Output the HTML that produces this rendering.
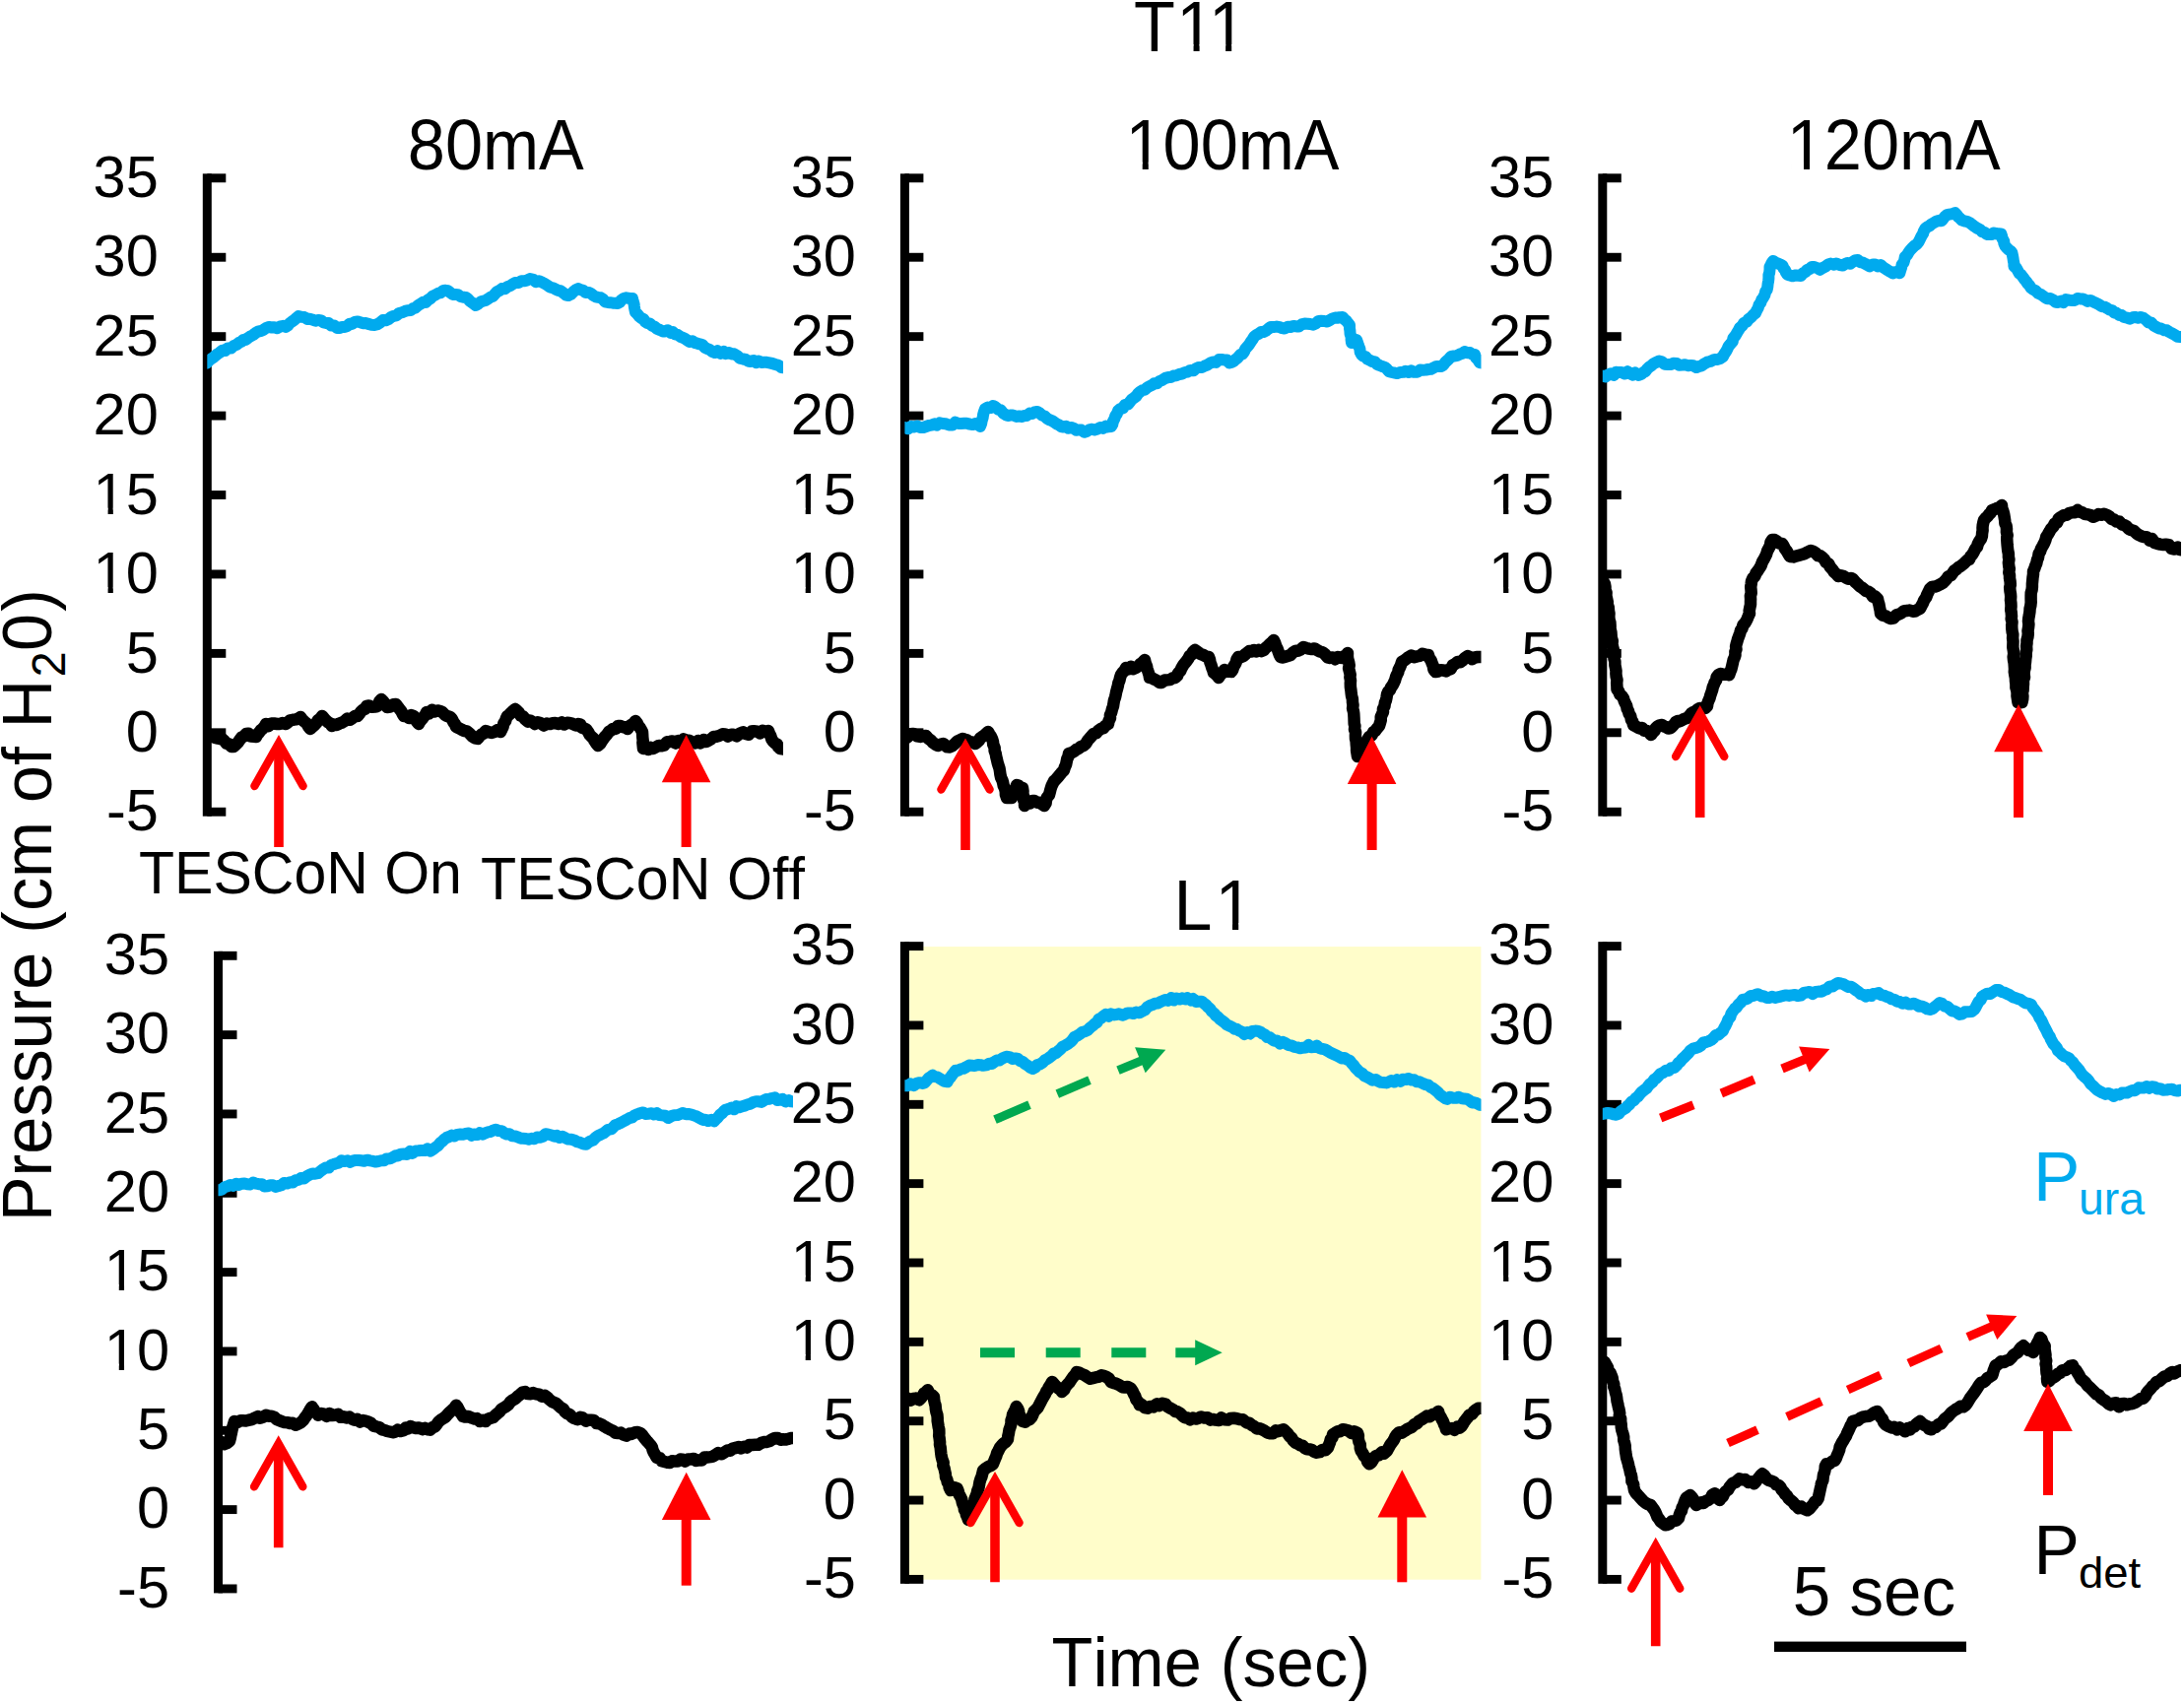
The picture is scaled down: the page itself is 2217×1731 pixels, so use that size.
<!DOCTYPE html>
<html><head><meta charset="utf-8"><title>Figure</title>
<style>html,body{margin:0;padding:0;background:#fff;}svg{display:block;}text{font-family:"Liberation Sans", Arial, Helvetica, sans-serif;fill:#000;font-kerning:none;}</style></head><body>
<svg width="2217" height="1731" viewBox="0 0 2217 1731">
<rect x="0" y="0" width="2217" height="1731" fill="#fff"/>
<rect x="918.4" y="961.1" width="585" height="642.6" fill="#FFFDCA"/>
<rect x="205.8" y="176.35000000000002" width="9.0" height="652.34" fill="#000"/>
<rect x="210.3" y="176.35000000000002" width="19" height="8.9" fill="#000"/>
<text x="160.8" y="200.00" font-size="59.5" text-anchor="end">35</text>

<rect x="210.3" y="256.78000000000003" width="19" height="8.9" fill="#000"/>
<text x="160.8" y="280.43" font-size="59.5" text-anchor="end">30</text>

<rect x="210.3" y="337.21000000000004" width="19" height="8.9" fill="#000"/>
<text x="160.8" y="360.86" font-size="59.5" text-anchor="end">25</text>

<rect x="210.3" y="417.64" width="19" height="8.9" fill="#000"/>
<text x="160.8" y="441.29" font-size="59.5" text-anchor="end">20</text>

<rect x="210.3" y="498.07" width="19" height="8.9" fill="#000"/>
<text x="160.8" y="521.72" font-size="59.5" text-anchor="end">15</text>
<rect x="98.35" y="515.67" width="11.23" height="7.05" fill="#fff"/><rect x="114.84" y="515.67" width="10.77" height="7.05" fill="#fff"/>
<rect x="210.3" y="578.5" width="19" height="8.9" fill="#000"/>
<text x="160.8" y="602.15" font-size="59.5" text-anchor="end">10</text>
<rect x="98.35" y="596.10" width="11.23" height="7.05" fill="#fff"/><rect x="114.84" y="596.10" width="10.77" height="7.05" fill="#fff"/>
<rect x="210.3" y="658.93" width="19" height="8.9" fill="#000"/>
<text x="160.8" y="682.58" font-size="59.5" text-anchor="end">5</text>

<rect x="210.3" y="739.3599999999999" width="19" height="8.9" fill="#000"/>
<text x="160.8" y="763.01" font-size="59.5" text-anchor="end">0</text>

<rect x="210.3" y="819.79" width="19" height="8.9" fill="#000"/>
<text x="160.8" y="843.44" font-size="59.5" text-anchor="end">-5</text>

<rect x="913.9" y="176.35000000000002" width="9.0" height="652.34" fill="#000"/>
<rect x="918.4" y="176.35000000000002" width="19" height="8.9" fill="#000"/>
<text x="868.9" y="200.00" font-size="59.5" text-anchor="end">35</text>

<rect x="918.4" y="256.78000000000003" width="19" height="8.9" fill="#000"/>
<text x="868.9" y="280.43" font-size="59.5" text-anchor="end">30</text>

<rect x="918.4" y="337.21000000000004" width="19" height="8.9" fill="#000"/>
<text x="868.9" y="360.86" font-size="59.5" text-anchor="end">25</text>

<rect x="918.4" y="417.64" width="19" height="8.9" fill="#000"/>
<text x="868.9" y="441.29" font-size="59.5" text-anchor="end">20</text>

<rect x="918.4" y="498.07" width="19" height="8.9" fill="#000"/>
<text x="868.9" y="521.72" font-size="59.5" text-anchor="end">15</text>
<rect x="806.45" y="515.67" width="11.23" height="7.05" fill="#fff"/><rect x="822.94" y="515.67" width="10.77" height="7.05" fill="#fff"/>
<rect x="918.4" y="578.5" width="19" height="8.9" fill="#000"/>
<text x="868.9" y="602.15" font-size="59.5" text-anchor="end">10</text>
<rect x="806.45" y="596.10" width="11.23" height="7.05" fill="#fff"/><rect x="822.94" y="596.10" width="10.77" height="7.05" fill="#fff"/>
<rect x="918.4" y="658.93" width="19" height="8.9" fill="#000"/>
<text x="868.9" y="682.58" font-size="59.5" text-anchor="end">5</text>

<rect x="918.4" y="739.3599999999999" width="19" height="8.9" fill="#000"/>
<text x="868.9" y="763.01" font-size="59.5" text-anchor="end">0</text>

<rect x="918.4" y="819.79" width="19" height="8.9" fill="#000"/>
<text x="868.9" y="843.44" font-size="59.5" text-anchor="end">-5</text>

<rect x="1622.3" y="176.35000000000002" width="9.0" height="652.34" fill="#000"/>
<rect x="1626.8" y="176.35000000000002" width="19" height="8.9" fill="#000"/>
<text x="1577.3" y="200.00" font-size="59.5" text-anchor="end">35</text>

<rect x="1626.8" y="256.78000000000003" width="19" height="8.9" fill="#000"/>
<text x="1577.3" y="280.43" font-size="59.5" text-anchor="end">30</text>

<rect x="1626.8" y="337.21000000000004" width="19" height="8.9" fill="#000"/>
<text x="1577.3" y="360.86" font-size="59.5" text-anchor="end">25</text>

<rect x="1626.8" y="417.64" width="19" height="8.9" fill="#000"/>
<text x="1577.3" y="441.29" font-size="59.5" text-anchor="end">20</text>

<rect x="1626.8" y="498.07" width="19" height="8.9" fill="#000"/>
<text x="1577.3" y="521.72" font-size="59.5" text-anchor="end">15</text>
<rect x="1514.85" y="515.67" width="11.23" height="7.05" fill="#fff"/><rect x="1531.34" y="515.67" width="10.77" height="7.05" fill="#fff"/>
<rect x="1626.8" y="578.5" width="19" height="8.9" fill="#000"/>
<text x="1577.3" y="602.15" font-size="59.5" text-anchor="end">10</text>
<rect x="1514.85" y="596.10" width="11.23" height="7.05" fill="#fff"/><rect x="1531.34" y="596.10" width="10.77" height="7.05" fill="#fff"/>
<rect x="1626.8" y="658.93" width="19" height="8.9" fill="#000"/>
<text x="1577.3" y="682.58" font-size="59.5" text-anchor="end">5</text>

<rect x="1626.8" y="739.3599999999999" width="19" height="8.9" fill="#000"/>
<text x="1577.3" y="763.01" font-size="59.5" text-anchor="end">0</text>

<rect x="1626.8" y="819.79" width="19" height="8.9" fill="#000"/>
<text x="1577.3" y="843.44" font-size="59.5" text-anchor="end">-5</text>

<rect x="217.0" y="965.8499999999999" width="9.0" height="651.5400000000002" fill="#000"/>
<rect x="221.5" y="965.8499999999999" width="19" height="8.9" fill="#000"/>
<text x="172.0" y="989.00" font-size="59.5" text-anchor="end">35</text>

<rect x="221.5" y="1046.18" width="19" height="8.9" fill="#000"/>
<text x="172.0" y="1069.33" font-size="59.5" text-anchor="end">30</text>

<rect x="221.5" y="1126.51" width="19" height="8.9" fill="#000"/>
<text x="172.0" y="1149.66" font-size="59.5" text-anchor="end">25</text>

<rect x="221.5" y="1206.84" width="19" height="8.9" fill="#000"/>
<text x="172.0" y="1229.99" font-size="59.5" text-anchor="end">20</text>

<rect x="221.5" y="1287.1699999999998" width="19" height="8.9" fill="#000"/>
<text x="172.0" y="1310.32" font-size="59.5" text-anchor="end">15</text>
<rect x="109.55" y="1304.27" width="11.23" height="7.05" fill="#fff"/><rect x="126.04" y="1304.27" width="10.77" height="7.05" fill="#fff"/>
<rect x="221.5" y="1367.5" width="19" height="8.9" fill="#000"/>
<text x="172.0" y="1390.65" font-size="59.5" text-anchor="end">10</text>
<rect x="109.55" y="1384.60" width="11.23" height="7.05" fill="#fff"/><rect x="126.04" y="1384.60" width="10.77" height="7.05" fill="#fff"/>
<rect x="221.5" y="1447.83" width="19" height="8.9" fill="#000"/>
<text x="172.0" y="1470.98" font-size="59.5" text-anchor="end">5</text>

<rect x="221.5" y="1528.1599999999999" width="19" height="8.9" fill="#000"/>
<text x="172.0" y="1551.31" font-size="59.5" text-anchor="end">0</text>

<rect x="221.5" y="1608.49" width="19" height="8.9" fill="#000"/>
<text x="172.0" y="1631.64" font-size="59.5" text-anchor="end">-5</text>

<rect x="913.9" y="956.15" width="9.0" height="651.7000000000002" fill="#000"/>
<rect x="918.4" y="956.15" width="19" height="8.9" fill="#000"/>
<text x="868.9" y="979.30" font-size="59.5" text-anchor="end">35</text>

<rect x="918.4" y="1036.5" width="19" height="8.9" fill="#000"/>
<text x="868.9" y="1059.65" font-size="59.5" text-anchor="end">30</text>

<rect x="918.4" y="1116.85" width="19" height="8.9" fill="#000"/>
<text x="868.9" y="1140.00" font-size="59.5" text-anchor="end">25</text>

<rect x="918.4" y="1197.2" width="19" height="8.9" fill="#000"/>
<text x="868.9" y="1220.35" font-size="59.5" text-anchor="end">20</text>

<rect x="918.4" y="1277.55" width="19" height="8.9" fill="#000"/>
<text x="868.9" y="1300.70" font-size="59.5" text-anchor="end">15</text>
<rect x="806.45" y="1294.65" width="11.23" height="7.05" fill="#fff"/><rect x="822.94" y="1294.65" width="10.77" height="7.05" fill="#fff"/>
<rect x="918.4" y="1357.8999999999999" width="19" height="8.9" fill="#000"/>
<text x="868.9" y="1381.05" font-size="59.5" text-anchor="end">10</text>
<rect x="806.45" y="1375.00" width="11.23" height="7.05" fill="#fff"/><rect x="822.94" y="1375.00" width="10.77" height="7.05" fill="#fff"/>
<rect x="918.4" y="1438.25" width="19" height="8.9" fill="#000"/>
<text x="868.9" y="1461.40" font-size="59.5" text-anchor="end">5</text>

<rect x="918.4" y="1518.6" width="19" height="8.9" fill="#000"/>
<text x="868.9" y="1541.75" font-size="59.5" text-anchor="end">0</text>

<rect x="918.4" y="1598.95" width="19" height="8.9" fill="#000"/>
<text x="868.9" y="1622.10" font-size="59.5" text-anchor="end">-5</text>

<rect x="1622.3" y="956.15" width="9.0" height="651.7000000000002" fill="#000"/>
<rect x="1626.8" y="956.15" width="19" height="8.9" fill="#000"/>
<text x="1577.3" y="979.30" font-size="59.5" text-anchor="end">35</text>

<rect x="1626.8" y="1036.5" width="19" height="8.9" fill="#000"/>
<text x="1577.3" y="1059.65" font-size="59.5" text-anchor="end">30</text>

<rect x="1626.8" y="1116.85" width="19" height="8.9" fill="#000"/>
<text x="1577.3" y="1140.00" font-size="59.5" text-anchor="end">25</text>

<rect x="1626.8" y="1197.2" width="19" height="8.9" fill="#000"/>
<text x="1577.3" y="1220.35" font-size="59.5" text-anchor="end">20</text>

<rect x="1626.8" y="1277.55" width="19" height="8.9" fill="#000"/>
<text x="1577.3" y="1300.70" font-size="59.5" text-anchor="end">15</text>
<rect x="1514.85" y="1294.65" width="11.23" height="7.05" fill="#fff"/><rect x="1531.34" y="1294.65" width="10.77" height="7.05" fill="#fff"/>
<rect x="1626.8" y="1357.8999999999999" width="19" height="8.9" fill="#000"/>
<text x="1577.3" y="1381.05" font-size="59.5" text-anchor="end">10</text>
<rect x="1514.85" y="1375.00" width="11.23" height="7.05" fill="#fff"/><rect x="1531.34" y="1375.00" width="10.77" height="7.05" fill="#fff"/>
<rect x="1626.8" y="1438.25" width="19" height="8.9" fill="#000"/>
<text x="1577.3" y="1461.40" font-size="59.5" text-anchor="end">5</text>

<rect x="1626.8" y="1518.6" width="19" height="8.9" fill="#000"/>
<text x="1577.3" y="1541.75" font-size="59.5" text-anchor="end">0</text>

<rect x="1626.8" y="1598.95" width="19" height="8.9" fill="#000"/>
<text x="1577.3" y="1622.10" font-size="59.5" text-anchor="end">-5</text>

<defs><clipPath id="c1"><rect x="210.3" y="0" width="584.7" height="1731"/></clipPath><clipPath id="c2"><rect x="918.4" y="0" width="585.1" height="1731"/></clipPath><clipPath id="c3"><rect x="1626.8" y="0" width="587.2" height="1731"/></clipPath><clipPath id="c4"><rect x="221.5" y="0" width="583.5" height="1731"/></clipPath><clipPath id="c5"><rect x="918.4" y="0" width="585.1" height="1731"/></clipPath><clipPath id="c6"><rect x="1626.8" y="0" width="587.2" height="1731"/></clipPath></defs>
<path clip-path="url(#c1)" d="M206.0,369.9 L210.0,368.5 L212.0,366.2 L214.5,364.3 L216.5,363.0 L218.2,361.5 L220.4,359.6 L223.0,358.0 L225.4,355.8 L228.6,356.0 L231.1,353.4 L234.5,353.6 L237.2,351.1 L240.0,350.0 L242.9,347.7 L245.2,346.7 L246.9,345.0 L249.5,344.9 L251.8,343.0 L254.7,341.2 L257.0,340.0 L259.7,337.8 L261.9,336.7 L265.2,335.9 L267.5,334.8 L270.3,332.9 L273.0,332.0 L276.1,332.6 L278.4,332.2 L281.5,333.2 L284.6,331.3 L287.6,330.8 L290.0,332.0 L292.1,330.6 L294.0,328.3 L296.0,326.8 L298.9,324.8 L301.2,322.5 L303.0,321.0 L306.1,321.8 L308.8,322.0 L311.9,323.9 L314.4,323.7 L316.8,324.4 L320.3,325.8 L323.0,325.0 L326.1,325.5 L328.4,327.4 L330.8,327.9 L333.7,328.1 L336.3,330.6 L339.1,330.4 L342.1,332.9 L345.0,333.0 L347.1,331.9 L350.0,331.9 L352.8,330.8 L354.8,328.8 L357.4,328.9 L360.0,327.0 L363.3,326.4 L365.4,327.1 L368.3,328.2 L371.5,328.0 L373.8,328.9 L377.0,329.8 L380.0,330.0 L383.3,329.1 L385.7,327.6 L388.7,325.1 L391.7,325.3 L394.5,324.0 L397.0,322.0 L399.7,320.8 L402.3,320.3 L405.1,318.0 L408.1,317.2 L411.1,315.9 L413.6,315.2 L417.0,315.0 L419.1,313.2 L421.5,312.7 L424.6,309.8 L426.8,308.7 L429.4,306.8 L432.3,306.9 L434.5,304.5 L437.0,303.0 L439.2,300.7 L442.0,299.4 L445.1,297.6 L446.9,297.4 L450.0,295.0 L452.4,294.8 L454.7,295.2 L457.0,297.0 L459.7,299.0 L462.7,299.1 L464.8,299.2 L467.3,301.0 L470.4,301.8 L473.0,302.0 L474.8,303.2 L477.3,306.0 L479.4,307.3 L481.3,308.8 L483.0,310.0 L485.2,308.8 L487.9,306.5 L490.0,305.8 L493.0,305.0 L495.1,303.7 L498.1,301.6 L500.4,300.8 L502.8,298.1 L504.4,296.2 L507.0,295.0 L509.4,293.1 L512.5,293.2 L515.3,291.0 L517.8,290.3 L519.9,288.7 L523.0,287.0 L526.4,286.9 L529.3,285.3 L531.7,285.3 L534.8,284.6 L538.0,283.0 L541.5,283.8 L543.9,286.1 L547.2,285.2 L549.6,286.2 L553.0,288.0 L556.2,290.0 L558.2,291.5 L561.9,292.5 L564.1,293.7 L567.0,295.0 L569.1,295.3 L572.5,297.8 L574.5,299.6 L577.0,300.0 L579.4,298.9 L582.3,296.0 L584.3,294.4 L587.0,293.0 L589.3,294.2 L592.0,294.8 L594.4,296.9 L597.3,296.9 L600.0,298.0 L602.5,300.1 L604.8,301.4 L607.3,301.9 L609.7,302.2 L612.1,303.8 L614.1,306.3 L617.0,307.0 L619.2,307.2 L622.2,307.7 L624.3,307.8 L627.0,308.0 L629.1,306.8 L630.6,304.8 L633.0,303.0 L635.7,302.3 L639.3,303.0 L642.0,303.0 L642.7,306.0 L643.6,308.6 L643.9,311.4 L644.4,314.3 L645.0,317.0 L647.0,318.9 L649.0,321.3 L651.2,323.1 L653.4,324.0 L655.1,326.8 L657.0,328.0 L659.9,328.7 L661.8,330.7 L664.4,331.7 L667.0,333.9 L670.0,335.0 L672.9,336.5 L674.9,336.4 L678.0,335.2 L680.8,337.9 L683.0,337.0 L685.1,339.3 L687.8,339.8 L690.8,341.9 L692.4,342.6 L695.2,343.8 L697.3,345.2 L700.0,347.0 L702.8,346.3 L705.3,348.0 L707.3,348.4 L710.5,349.4 L713.0,350.0 L715.1,352.6 L718.3,354.3 L720.1,354.8 L723.0,357.0 L725.4,358.0 L728.4,356.2 L731.4,358.8 L734.7,356.9 L736.8,359.1 L740.0,358.0 L742.9,359.6 L745.3,359.3 L748.7,361.3 L750.9,363.6 L754.3,364.5 L757.0,365.0 L759.3,366.5 L761.9,367.0 L765.0,366.1 L767.7,368.2 L770.1,366.5 L773.0,368.0 L775.8,367.7 L778.2,367.8 L781.0,368.4 L784.0,369.0 L787.0,370.0 L789.3,370.6 L791.0,371.3 L793.0,373.0 L801.0,373.8" fill="none" stroke="#00AAEE" stroke-width="12" stroke-linejoin="round" stroke-linecap="butt"/>
<path clip-path="url(#c1)" d="M206.0,747.2 L210.0,746.7 L212.4,745.7 L215.0,746.4 L218.0,748.9 L220.1,749.3 L223.0,750.0 L225.8,750.3 L228.0,752.5 L230.0,754.8 L232.2,755.4 L234.9,757.9 L237.0,758.0 L239.0,756.4 L241.5,753.9 L243.4,751.2 L245.2,748.7 L247.4,747.6 L250.0,745.0 L252.3,744.7 L254.6,747.6 L257.9,747.8 L260.0,748.0 L261.4,745.4 L263.1,743.6 L264.7,741.4 L266.4,740.0 L268.8,737.2 L270.0,735.0 L272.6,737.0 L275.5,734.4 L278.1,734.5 L281.4,735.0 L284.0,735.0 L286.6,734.0 L290.0,735.0 L292.1,733.6 L294.5,731.3 L297.3,730.8 L300.1,730.4 L302.8,729.6 L305.0,728.0 L307.2,731.0 L308.9,732.5 L311.5,734.6 L313.2,737.8 L315.0,740.0 L316.5,738.4 L319.4,735.9 L321.2,734.0 L322.6,731.4 L325.0,729.7 L327.0,727.0 L329.3,729.6 L331.1,731.7 L333.2,733.4 L334.7,734.1 L337.0,737.0 L339.2,735.6 L341.8,736.0 L344.9,734.4 L347.5,733.5 L350.0,732.0 L352.6,729.5 L355.5,730.7 L357.8,729.1 L360.6,726.7 L363.0,727.0 L365.0,724.6 L366.2,722.6 L368.6,720.5 L370.4,719.8 L372.0,717.0 L374.7,716.5 L377.5,717.8 L380.5,717.5 L383.0,717.0 L384.5,714.1 L385.3,712.0 L387.0,710.0 L388.7,711.7 L390.1,713.3 L391.1,715.7 L393.0,718.0 L396.2,717.6 L399.2,715.3 L402.0,715.0 L403.6,717.4 L405.2,719.3 L407.2,721.8 L408.9,725.2 L410.0,727.0 L412.0,726.8 L415.3,729.0 L417.4,726.0 L420.0,727.0 L421.4,730.3 L423.0,732.4 L425.0,735.0 L426.2,732.6 L428.7,729.7 L430.1,727.8 L431.8,725.7 L433.0,723.0 L435.5,724.4 L438.6,720.7 L440.9,722.4 L444.2,721.4 L447.0,722.0 L449.1,723.1 L451.8,725.8 L454.0,727.1 L457.0,728.0 L458.8,730.0 L460.4,733.3 L461.9,735.2 L463.0,738.0 L465.7,739.1 L469.1,741.0 L471.3,742.0 L474.0,742.4 L477.0,745.0 L479.3,747.5 L482.1,749.4 L485.0,750.0 L486.7,747.6 L489.0,745.4 L490.9,744.8 L493.0,742.0 L496.4,743.4 L499.1,744.0 L502.4,742.8 L505.2,741.0 L508.0,743.0 L509.4,740.3 L510.6,737.8 L511.3,734.5 L513.1,731.9 L513.8,729.5 L515.0,727.0 L516.8,725.7 L519.5,723.0 L521.2,721.4 L523.0,720.0 L525.1,721.8 L526.7,723.4 L528.7,726.7 L531.0,727.5 L533.0,730.0 L535.9,732.6 L537.9,731.5 L540.2,732.6 L543.0,735.0 L545.8,733.3 L548.7,734.0 L552.1,736.6 L555.2,734.6 L557.9,735.1 L560.9,734.3 L563.6,734.1 L567.0,735.0 L570.3,733.4 L572.7,735.5 L575.9,733.8 L578.2,733.9 L581.2,734.8 L584.6,736.5 L587.0,735.0 L589.4,735.6 L590.5,738.6 L593.4,739.7 L595.1,740.3 L597.0,743.0 L598.6,746.0 L600.7,748.2 L602.5,749.6 L603.3,751.8 L605.4,754.9 L607.0,757.0 L609.3,755.0 L610.8,752.7 L612.5,750.1 L613.9,748.1 L615.9,746.0 L618.0,743.0 L620.5,741.3 L622.4,739.9 L625.3,739.9 L627.2,737.0 L630.0,737.0 L632.4,738.2 L634.6,738.2 L637.0,740.0 L639.1,737.1 L640.8,735.9 L643.5,734.3 L645.0,732.0 L646.8,734.2 L647.5,736.1 L649.7,738.9 L650.4,740.1 L652.0,743.0 L652.2,746.0 L652.3,748.5 L652.7,751.9 L652.4,753.9 L652.7,757.1 L653.0,760.0 L655.7,758.7 L658.3,761.0 L660.5,758.8 L663.0,760.0 L666.3,758.3 L669.0,756.9 L671.2,757.3 L674.1,756.7 L677.2,753.3 L680.0,753.0 L682.6,752.5 L685.8,754.5 L688.1,752.1 L691.0,754.2 L693.8,750.4 L697.0,752.0 L699.4,751.7 L703.1,753.8 L705.8,754.4 L708.9,751.9 L711.0,754.5 L714.4,751.0 L717.0,753.0 L719.8,751.5 L722.1,750.1 L724.5,748.0 L727.2,747.8 L730.0,747.0 L733.5,745.3 L736.5,745.4 L738.9,747.6 L742.3,745.8 L744.5,745.8 L747.9,747.3 L750.7,744.9 L754.4,743.4 L757.0,745.0 L759.8,745.8 L763.0,742.5 L765.2,742.2 L768.9,742.6 L771.6,744.6 L774.1,741.9 L777.6,742.8 L780.0,742.0 L781.0,745.0 L782.3,747.2 L783.3,750.5 L785.0,753.0 L787.2,755.0 L788.9,755.6 L790.0,758.2 L792.0,760.0 L800.0,760.9" fill="none" stroke="#000" stroke-width="12.5" stroke-linejoin="round" stroke-linecap="butt"/>
<path clip-path="url(#c2)" d="M914.4,433.6 L918.4,434.0 L921.9,435.3 L924.5,432.9 L927.6,433.6 L931.2,432.5 L934.1,434.0 L937.2,434.0 L940.0,433.0 L942.9,432.0 L945.5,431.6 L948.8,430.3 L951.0,431.7 L953.9,429.3 L957.0,430.0 L959.7,430.2 L963.2,431.5 L967.0,431.6 L969.6,428.7 L973.0,430.0 L975.4,430.0 L978.9,429.8 L981.2,429.7 L984.5,430.6 L987.4,431.1 L990.0,430.0 L992.7,430.8 L995.0,433.0 L996.2,429.8 L996.7,426.9 L997.7,423.8 L998.1,420.8 L998.8,418.3 L1000.0,415.0 L1002.7,413.6 L1005.2,414.1 L1008.0,412.0 L1010.5,413.2 L1013.3,415.6 L1016.0,416.3 L1018.0,419.2 L1020.8,421.1 L1023.0,422.0 L1025.3,421.6 L1028.2,421.5 L1031.9,422.9 L1034.6,422.4 L1037.0,423.0 L1040.0,422.0 L1042.1,422.0 L1045.4,419.5 L1047.8,420.0 L1050.1,418.5 L1053.0,418.0 L1055.1,419.2 L1057.8,421.7 L1060.7,422.7 L1063.0,425.0 L1064.8,426.0 L1067.8,427.1 L1069.8,428.4 L1072.6,430.4 L1074.2,430.9 L1077.0,433.0 L1079.5,433.5 L1082.3,432.7 L1084.5,434.7 L1087.3,434.0 L1090.0,435.0 L1092.4,436.8 L1095.0,436.4 L1097.7,436.6 L1100.8,438.7 L1103.0,438.0 L1105.7,436.4 L1108.8,435.7 L1110.9,436.6 L1114.1,435.6 L1117.0,434.0 L1119.7,434.9 L1122.5,432.5 L1124.8,433.4 L1128.0,433.0 L1129.3,430.7 L1129.9,427.8 L1131.4,425.0 L1132.3,422.1 L1133.9,420.0 L1135.0,417.0 L1137.0,415.2 L1140.1,414.2 L1141.9,411.0 L1145.0,410.6 L1147.0,408.0 L1149.0,405.4 L1151.4,403.8 L1153.4,402.2 L1155.3,399.5 L1157.0,398.0 L1159.8,396.1 L1161.9,395.9 L1164.8,393.3 L1166.7,392.3 L1169.5,390.9 L1171.6,389.3 L1174.7,389.2 L1177.0,387.0 L1179.4,386.1 L1183.0,383.9 L1185.9,383.1 L1188.5,383.1 L1191.4,381.5 L1194.1,381.2 L1197.0,380.0 L1199.8,379.5 L1202.7,378.1 L1205.1,377.7 L1208.5,375.9 L1211.6,376.3 L1214.2,374.0 L1217.1,372.9 L1220.0,373.0 L1222.5,371.7 L1225.3,370.6 L1228.6,368.5 L1231.6,367.5 L1234.5,367.9 L1237.2,365.1 L1240.0,365.0 L1242.5,365.4 L1245.5,365.6 L1247.9,368.5 L1250.0,368.0 L1252.4,366.7 L1254.0,365.1 L1256.5,363.2 L1259.1,360.1 L1261.1,359.5 L1263.0,357.0 L1264.2,354.3 L1266.6,351.6 L1268.4,349.3 L1270.0,346.6 L1271.3,344.9 L1273.0,342.0 L1275.1,340.1 L1277.9,338.8 L1279.8,337.1 L1282.4,337.1 L1285.3,335.6 L1287.2,334.0 L1290.0,332.0 L1292.5,332.1 L1295.9,331.6 L1298.9,332.2 L1301.5,333.2 L1303.9,333.6 L1307.3,331.7 L1310.0,332.0 L1313.2,330.9 L1316.2,331.4 L1318.4,331.5 L1321.4,329.4 L1324.5,328.6 L1327.5,328.7 L1330.0,329.0 L1333.0,329.7 L1335.8,328.3 L1338.4,325.9 L1341.0,325.8 L1344.4,326.0 L1347.2,326.6 L1350.0,325.0 L1352.2,323.7 L1355.4,322.5 L1357.3,322.8 L1360.0,322.2 L1363.0,322.0 L1364.5,324.1 L1366.6,325.6 L1368.4,328.0 L1370.0,330.0 L1370.0,333.3 L1370.4,335.8 L1370.6,339.1 L1371.7,342.2 L1371.6,344.8 L1372.0,348.0 L1374.0,346.8 L1377.0,345.0 L1378.1,347.9 L1379.1,351.0 L1380.4,354.2 L1380.7,357.3 L1382.0,360.0 L1383.7,361.5 L1386.3,362.3 L1388.2,364.7 L1390.3,365.7 L1393.0,367.0 L1395.9,367.5 L1397.7,369.7 L1400.5,371.0 L1403.0,372.0 L1405.8,372.9 L1407.8,374.6 L1410.0,377.2 L1413.0,378.0 L1416.1,378.7 L1418.2,379.1 L1421.7,377.9 L1424.6,377.8 L1426.9,376.7 L1430.0,378.0 L1432.6,376.3 L1435.5,377.8 L1438.8,377.7 L1441.6,375.6 L1444.3,375.7 L1447.4,375.5 L1450.0,375.0 L1452.4,374.8 L1455.7,373.1 L1458.2,371.9 L1460.2,371.9 L1463.0,372.0 L1465.2,370.6 L1467.2,367.8 L1469.4,365.8 L1470.7,364.6 L1473.0,362.0 L1475.9,361.5 L1478.8,361.1 L1481.4,359.8 L1484.4,358.8 L1487.0,357.0 L1489.4,358.3 L1492.1,358.0 L1494.2,359.6 L1497.0,360.0 L1498.2,363.1 L1500.0,364.8 L1502.0,368.0 L1510.0,369.6" fill="none" stroke="#00AAEE" stroke-width="12" stroke-linejoin="round" stroke-linecap="butt"/>
<path clip-path="url(#c2)" d="M914.4,745.9 L918.4,746.7 L921.1,748.5 L924.4,745.3 L927.2,744.9 L930.9,747.4 L934.0,747.9 L936.5,747.3 L940.0,747.0 L942.3,749.7 L945.1,751.8 L946.8,753.8 L950.0,755.9 L952.0,757.0 L954.6,755.8 L957.6,755.0 L961.3,758.3 L964.1,758.4 L967.0,757.0 L969.6,754.8 L971.6,752.6 L974.8,751.1 L977.0,750.0 L979.4,750.8 L981.7,751.3 L984.6,753.6 L987.3,753.5 L990.0,755.0 L992.2,753.3 L993.9,751.7 L994.8,749.6 L997.0,748.0 L998.9,746.9 L1000.8,745.1 L1003.0,743.0 L1004.3,745.2 L1005.9,747.5 L1007.1,750.1 L1008.0,753.0 L1008.2,755.7 L1009.7,759.4 L1009.6,762.0 L1010.8,765.3 L1011.2,768.0 L1012.0,771.3 L1012.7,774.4 L1013.4,776.7 L1014.5,780.0 L1015.0,783.0 L1015.4,786.1 L1016.1,789.3 L1017.5,792.3 L1018.2,794.9 L1018.8,797.9 L1020.1,800.6 L1020.8,803.6 L1020.9,806.8 L1022.0,810.0 L1024.9,810.0 L1027.0,810.0 L1027.9,807.8 L1028.7,804.8 L1030.0,802.5 L1031.3,799.8 L1032.0,797.0 L1033.8,797.5 L1035.7,799.9 L1038.0,800.0 L1038.5,803.2 L1038.3,805.9 L1039.3,809.1 L1039.0,812.0 L1040.1,814.8 L1040.0,818.0 L1042.4,815.9 L1045.5,815.5 L1048.0,813.0 L1050.1,813.0 L1052.5,814.5 L1055.2,815.0 L1057.4,816.1 L1060.0,818.0 L1061.6,815.5 L1061.8,812.9 L1062.9,809.5 L1064.9,807.2 L1065.8,804.0 L1066.4,801.5 L1067.4,798.2 L1068.8,795.3 L1070.0,793.0 L1071.9,791.3 L1074.2,788.6 L1076.1,786.3 L1077.6,784.4 L1080.0,782.0 L1080.7,779.4 L1082.1,776.3 L1082.6,773.7 L1083.3,770.4 L1084.4,768.2 L1085.0,765.0 L1087.8,764.2 L1090.4,762.8 L1092.6,760.9 L1094.8,760.0 L1097.1,758.1 L1100.0,757.0 L1102.3,754.9 L1104.1,751.8 L1105.9,749.7 L1108.1,747.3 L1110.0,745.0 L1112.7,744.3 L1114.7,742.0 L1117.8,739.7 L1120.0,739.4 L1122.0,736.8 L1125.0,735.0 L1125.4,732.3 L1127.0,729.0 L1126.9,726.1 L1128.2,723.2 L1128.9,720.1 L1130.0,717.0 L1130.4,714.4 L1130.9,711.2 L1132.0,708.0 L1132.6,705.4 L1133.1,702.7 L1134.1,699.0 L1134.8,696.4 L1135.3,693.5 L1136.4,690.9 L1137.1,687.7 L1138.0,685.0 L1139.4,683.0 L1141.8,680.4 L1143.0,678.0 L1145.2,679.3 L1147.9,676.8 L1150.1,679.2 L1153.0,678.0 L1155.6,676.3 L1157.5,674.1 L1159.5,672.9 L1162.0,670.0 L1162.7,673.1 L1164.0,676.3 L1164.5,678.8 L1165.4,681.6 L1166.5,684.9 L1167.0,688.0 L1169.9,688.6 L1171.9,689.8 L1174.4,690.9 L1177.0,693.0 L1179.2,692.9 L1182.1,690.5 L1184.8,690.4 L1187.6,690.1 L1190.5,688.4 L1193.0,688.0 L1195.1,686.0 L1195.9,683.5 L1198.4,680.9 L1199.3,678.5 L1201.5,674.8 L1203.0,673.0 L1204.2,671.5 L1206.5,668.3 L1207.6,666.0 L1209.4,664.8 L1211.2,661.6 L1213.0,660.0 L1216.2,662.2 L1218.3,663.9 L1221.5,665.0 L1224.4,666.7 L1227.0,667.0 L1228.1,670.0 L1228.4,672.5 L1229.5,675.2 L1230.3,678.0 L1231.2,680.1 L1232.0,683.0 L1233.4,684.0 L1235.3,685.5 L1237.0,688.0 L1238.5,685.5 L1240.0,684.0 L1241.5,682.5 L1243.0,680.0 L1244.8,681.8 L1247.6,681.5 L1250.0,682.0 L1251.3,679.9 L1252.2,676.9 L1254.0,674.0 L1254.8,672.2 L1255.4,669.6 L1257.0,667.0 L1259.8,667.1 L1262.2,666.0 L1265.0,663.5 L1268.1,661.0 L1270.6,661.5 L1273.0,660.0 L1275.3,661.5 L1277.9,659.9 L1280.5,661.1 L1283.0,660.0 L1284.7,657.9 L1286.9,656.1 L1289.3,653.6 L1291.3,651.8 L1293.0,650.0 L1294.2,652.6 L1295.3,656.2 L1296.7,658.8 L1297.5,661.1 L1298.6,664.3 L1300.0,667.0 L1302.6,667.5 L1304.5,666.8 L1307.9,665.7 L1310.0,665.0 L1312.1,662.9 L1314.7,661.0 L1318.2,660.5 L1320.6,659.3 L1323.0,657.0 L1326.2,658.0 L1328.7,658.6 L1331.6,659.1 L1334.4,658.4 L1337.0,660.0 L1339.8,661.5 L1342.5,662.2 L1344.5,663.7 L1347.7,667.4 L1350.0,668.0 L1352.8,667.4 L1355.5,669.2 L1357.9,667.0 L1360.2,667.7 L1363.0,668.0 L1364.5,666.2 L1366.5,665.5 L1368.0,663.0 L1367.9,666.2 L1368.2,668.9 L1369.2,672.4 L1369.7,675.5 L1369.1,678.5 L1370.0,682.1 L1370.7,684.9 L1370.4,687.7 L1371.0,690.9 L1370.8,693.8 L1370.9,697.5 L1371.4,700.9 L1371.7,703.9 L1372.0,706.3 L1372.9,709.7 L1373.0,713.0 L1373.5,715.8 L1373.1,719.3 L1374.0,722.5 L1374.3,724.9 L1374.5,728.5 L1374.6,731.7 L1374.7,734.8 L1375.4,737.0 L1375.0,740.6 L1376.1,743.2 L1375.9,746.8 L1376.0,750.0 L1376.6,752.3 L1376.8,755.8 L1377.1,759.0 L1377.1,762.1 L1377.6,765.1 L1378.0,768.0 L1379.6,765.4 L1380.9,763.4 L1382.9,760.9 L1384.1,757.7 L1385.1,756.1 L1387.2,753.4 L1388.3,750.6 L1390.0,748.0 L1392.5,746.4 L1394.1,743.3 L1395.9,742.1 L1397.9,739.5 L1400.0,737.0 L1400.8,734.5 L1401.8,731.0 L1401.7,728.0 L1402.8,725.4 L1404.0,722.8 L1403.9,719.9 L1405.4,717.0 L1405.9,713.5 L1406.9,711.1 L1407.5,708.3 L1408.0,705.0 L1409.2,702.1 L1410.9,700.6 L1411.9,698.1 L1414.0,695.1 L1415.0,693.0 L1416.1,690.6 L1417.0,687.4 L1417.8,685.4 L1419.3,682.5 L1419.6,680.2 L1421.3,677.0 L1422.1,675.0 L1423.0,672.0 L1425.7,670.4 L1427.6,668.9 L1430.0,667.0 L1432.5,665.5 L1435.4,667.2 L1438.4,666.4 L1441.3,665.9 L1443.9,663.8 L1447.6,664.8 L1450.0,665.0 L1450.8,668.0 L1452.6,670.3 L1453.6,673.3 L1454.7,675.8 L1455.4,679.7 L1457.0,682.0 L1460.0,681.5 L1462.3,680.3 L1465.1,680.5 L1467.8,681.4 L1470.0,680.0 L1472.7,679.3 L1474.6,675.5 L1477.0,674.1 L1479.3,672.1 L1482.2,672.3 L1484.5,670.7 L1487.0,668.0 L1490.0,666.1 L1492.3,667.2 L1494.4,669.2 L1497.2,667.5 L1500.0,667.0 L1508.0,666.8" fill="none" stroke="#000" stroke-width="12.5" stroke-linejoin="round" stroke-linecap="butt"/>
<path clip-path="url(#c3)" d="M1623.0,381.4 L1627.0,381.7 L1629.9,382.4 L1632.6,380.4 L1635.1,379.2 L1638.3,380.9 L1640.3,377.8 L1643.0,378.1 L1646.0,378.0 L1649.3,379.5 L1652.1,377.2 L1654.9,379.5 L1657.6,380.6 L1659.8,378.4 L1663.4,381.0 L1666.0,380.0 L1668.3,378.0 L1670.4,377.0 L1672.0,374.6 L1674.3,372.5 L1676.7,370.9 L1678.6,369.1 L1681.0,368.0 L1684.2,366.6 L1687.2,367.3 L1689.5,369.7 L1692.7,369.9 L1696.4,369.9 L1698.6,368.7 L1702.0,369.0 L1704.5,370.7 L1708.1,370.5 L1710.5,370.3 L1713.8,371.2 L1716.4,370.9 L1718.9,371.2 L1722.0,373.0 L1725.0,371.9 L1727.2,371.4 L1730.2,369.2 L1732.9,367.7 L1736.0,367.0 L1738.9,365.6 L1740.9,365.0 L1743.6,364.9 L1746.0,364.1 L1749.0,362.0 L1750.1,359.8 L1752.3,356.4 L1753.6,353.9 L1754.9,351.2 L1756.6,349.3 L1758.8,346.6 L1759.4,343.3 L1761.8,340.5 L1763.1,338.1 L1764.9,335.2 L1766.0,333.0 L1768.6,330.6 L1770.2,328.0 L1773.2,326.6 L1774.8,324.3 L1777.8,321.9 L1779.8,319.6 L1782.0,318.0 L1783.0,315.6 L1784.8,312.4 L1785.5,309.6 L1787.3,307.3 L1788.3,304.4 L1789.9,302.2 L1791.4,299.4 L1792.1,296.3 L1793.7,294.0 L1794.3,291.1 L1794.6,288.0 L1795.1,285.3 L1795.4,282.7 L1795.4,279.3 L1796.2,276.7 L1796.5,273.7 L1796.5,271.0 L1797.4,269.3 L1798.7,266.7 L1800.0,265.0 L1802.2,266.3 L1804.3,267.3 L1807.1,268.5 L1809.5,269.6 L1810.3,272.1 L1812.2,274.4 L1812.9,276.5 L1814.3,278.6 L1816.9,279.6 L1819.3,280.3 L1823.0,279.4 L1825.3,279.8 L1828.0,280.0 L1830.2,277.4 L1832.9,276.0 L1834.3,274.0 L1836.6,273.3 L1839.0,271.0 L1841.3,271.0 L1844.7,272.1 L1847.3,273.8 L1849.6,272.4 L1852.9,270.7 L1855.8,268.4 L1858.3,267.6 L1861.8,268.7 L1864.0,267.5 L1867.6,269.1 L1870.7,269.6 L1873.0,267.8 L1875.6,266.9 L1878.3,267.7 L1880.4,266.1 L1883.5,264.2 L1885.8,264.1 L1888.5,266.2 L1890.5,266.4 L1893.3,267.8 L1895.4,269.0 L1898.0,270.4 L1901.2,268.5 L1903.4,268.5 L1906.3,270.5 L1909.1,269.0 L1911.8,271.4 L1914.2,273.0 L1915.9,274.1 L1918.7,275.8 L1921.6,277.4 L1923.3,276.3 L1926.1,276.5 L1928.4,277.2 L1929.3,274.1 L1930.1,271.7 L1930.6,268.7 L1932.5,266.4 L1933.3,263.6 L1933.8,260.7 L1935.9,258.9 L1937.9,255.5 L1939.3,253.8 L1941.5,251.4 L1943.6,249.4 L1945.6,248.2 L1947.6,245.6 L1949.1,242.6 L1950.3,240.1 L1952.1,237.2 L1952.8,234.8 L1954.4,231.9 L1956.1,230.7 L1959.0,229.2 L1960.4,227.7 L1962.7,226.4 L1965.5,224.8 L1967.8,224.1 L1970.9,224.3 L1972.5,222.1 L1974.4,219.8 L1976.4,218.1 L1978.8,217.6 L1982.3,217.1 L1984.7,216.1 L1986.5,218.2 L1987.8,220.1 L1989.8,221.8 L1991.5,223.6 L1994.4,224.5 L1996.8,224.9 L1999.8,226.4 L2002.0,228.2 L2004.6,230.1 L2006.7,231.5 L2010.0,233.1 L2012.1,235.3 L2014.6,236.0 L2016.7,237.9 L2019.2,238.0 L2021.8,238.0 L2023.9,236.5 L2027.0,237.5 L2028.6,237.2 L2031.4,237.4 L2032.2,240.0 L2032.6,242.1 L2034.3,245.0 L2034.3,247.1 L2035.5,249.7 L2037.1,251.7 L2039.1,253.6 L2041.0,254.9 L2042.4,256.6 L2043.0,259.5 L2043.5,262.1 L2043.9,265.0 L2044.4,267.3 L2044.4,270.3 L2046.6,271.9 L2048.3,274.8 L2049.8,277.5 L2051.7,279.0 L2053.4,281.3 L2055.3,283.9 L2056.8,285.6 L2058.3,287.9 L2060.2,289.9 L2061.6,292.3 L2063.9,294.0 L2066.3,295.2 L2069.1,297.8 L2071.2,298.7 L2073.3,300.0 L2076.0,302.0 L2078.2,303.2 L2081.3,303.1 L2084.2,304.6 L2086.7,306.8 L2089.0,307.0 L2092.3,305.6 L2094.6,307.0 L2097.1,304.1 L2100.5,304.7 L2103.7,304.9 L2106.2,304.9 L2109.0,303.0 L2111.6,303.4 L2114.4,303.5 L2116.7,304.5 L2119.3,305.9 L2122.0,305.0 L2125.0,306.4 L2127.3,307.4 L2130.4,309.1 L2133.4,311.1 L2136.6,311.6 L2139.0,313.0 L2141.4,314.5 L2144.4,315.3 L2146.3,317.5 L2148.4,317.8 L2151.6,320.1 L2153.6,319.9 L2156.0,322.0 L2159.3,322.7 L2162.0,323.8 L2165.0,322.2 L2167.1,321.9 L2170.3,322.7 L2172.8,321.9 L2176.0,323.0 L2178.7,325.0 L2181.1,327.5 L2183.9,327.6 L2186.3,330.7 L2189.0,332.0 L2191.4,333.4 L2193.7,333.6 L2197.1,335.2 L2199.6,335.3 L2202.0,337.0 L2204.7,338.4 L2207.3,339.8 L2210.3,341.8 L2213.0,342.0 L2221.0,342.1" fill="none" stroke="#00AAEE" stroke-width="12" stroke-linejoin="round" stroke-linecap="butt"/>
<path clip-path="url(#c3)" d="M1625.0,586.2 L1629.0,593.0 L1629.5,595.9 L1629.5,598.7 L1630.6,601.7 L1630.4,604.7 L1631.2,608.3 L1631.8,611.3 L1631.7,613.6 L1632.8,616.8 L1633.0,620.0 L1633.5,622.9 L1633.3,625.9 L1633.6,629.5 L1634.4,632.0 L1634.6,635.1 L1634.6,638.6 L1635.4,641.7 L1635.6,644.4 L1635.7,647.0 L1636.8,650.7 L1636.5,653.8 L1637.0,656.5 L1637.8,659.4 L1638.0,663.0 L1638.3,666.1 L1638.5,668.7 L1639.4,671.6 L1639.4,675.2 L1640.0,678.2 L1640.5,681.0 L1640.4,683.9 L1640.7,687.1 L1641.5,690.3 L1641.2,693.3 L1641.4,696.7 L1641.5,700.0 L1643.0,701.6 L1644.4,705.0 L1646.2,706.4 L1648.0,709.0 L1648.7,711.4 L1649.7,713.7 L1651.2,716.6 L1651.7,719.6 L1653.0,722.0 L1653.6,724.6 L1655.3,727.2 L1655.9,730.7 L1657.3,732.8 L1658.0,736.0 L1660.9,737.7 L1663.9,739.4 L1667.0,739.0 L1669.0,741.7 L1671.5,741.9 L1673.7,743.5 L1676.0,746.0 L1677.8,743.5 L1679.6,741.9 L1680.7,739.2 L1682.5,737.5 L1684.8,736.3 L1687.2,735.9 L1689.0,737.5 L1691.3,738.1 L1693.4,739.5 L1696.0,739.0 L1697.6,737.5 L1699.6,735.2 L1701.1,733.0 L1703.0,732.0 L1705.1,732.4 L1707.6,731.0 L1709.7,729.9 L1712.5,729.0 L1714.6,727.2 L1716.7,724.5 L1718.9,723.0 L1720.9,722.2 L1723.5,720.0 L1725.7,718.9 L1728.7,719.4 L1731.0,718.9 L1733.0,717.0 L1733.4,714.0 L1734.2,711.7 L1735.6,708.6 L1736.2,706.1 L1737.3,703.0 L1738.2,700.3 L1738.7,697.7 L1739.9,694.9 L1740.5,693.2 L1742.2,690.5 L1742.6,687.3 L1744.2,685.3 L1746.6,684.0 L1749.5,684.8 L1752.0,684.5 L1755.2,685.3 L1756.3,682.0 L1757.4,679.4 L1758.2,676.2 L1758.8,673.6 L1759.6,670.0 L1760.7,667.5 L1761.5,665.0 L1761.4,661.6 L1762.5,659.3 L1762.1,656.3 L1762.6,654.0 L1763.5,651.0 L1764.1,648.7 L1765.5,645.1 L1766.3,642.6 L1767.0,640.0 L1768.5,638.0 L1769.4,634.6 L1771.3,632.6 L1772.6,630.5 L1773.7,628.3 L1774.8,625.4 L1776.0,623.0 L1775.7,620.2 L1776.3,617.0 L1777.0,613.7 L1777.0,610.6 L1777.1,608.3 L1776.9,605.0 L1777.7,602.1 L1777.5,598.8 L1777.2,595.9 L1777.7,592.7 L1778.0,590.0 L1779.4,586.9 L1781.4,585.0 L1782.5,581.9 L1784.4,579.5 L1786.0,577.0 L1787.6,574.4 L1788.2,572.7 L1789.2,569.9 L1790.6,567.8 L1792.0,565.0 L1793.2,562.5 L1794.0,559.5 L1795.6,556.5 L1796.9,554.0 L1797.4,550.6 L1799.0,548.0 L1801.4,548.1 L1803.6,549.4 L1806.2,551.6 L1809.0,552.0 L1810.5,554.1 L1812.0,557.2 L1813.7,559.4 L1815.0,561.7 L1817.0,565.0 L1820.5,565.4 L1822.6,564.8 L1826.5,563.7 L1829.0,563.0 L1831.6,562.2 L1834.9,560.4 L1838.0,559.1 L1841.0,560.0 L1843.6,561.9 L1845.5,564.2 L1847.8,564.2 L1849.5,565.6 L1852.0,568.0 L1853.5,570.9 L1856.3,572.5 L1857.7,575.5 L1860.3,578.4 L1861.7,580.6 L1864.3,583.0 L1866.0,585.0 L1868.4,584.2 L1871.5,585.1 L1873.7,586.4 L1876.3,587.8 L1879.0,587.0 L1880.9,587.9 L1883.4,591.0 L1885.7,593.0 L1888.0,595.3 L1889.7,596.3 L1891.5,597.7 L1894.0,600.0 L1896.5,600.6 L1899.0,602.4 L1901.1,605.9 L1903.2,605.3 L1906.0,608.0 L1906.5,610.7 L1907.4,613.5 L1908.1,617.3 L1908.7,619.9 L1909.0,623.0 L1911.3,624.7 L1914.0,625.3 L1916.3,626.6 L1919.0,628.0 L1922.0,627.6 L1925.1,624.4 L1927.3,623.8 L1930.4,622.2 L1932.9,620.2 L1936.0,620.0 L1938.4,619.5 L1941.7,620.7 L1944.2,620.5 L1946.9,618.8 L1949.0,618.0 L1950.7,614.6 L1952.0,612.4 L1953.1,609.5 L1955.2,606.5 L1956.3,603.5 L1957.4,601.3 L1959.0,598.0 L1961.1,595.9 L1964.4,595.5 L1966.4,594.8 L1969.3,593.4 L1972.0,592.0 L1973.9,590.1 L1976.1,587.8 L1977.6,585.4 L1980.4,584.1 L1981.6,582.7 L1983.8,579.3 L1986.0,578.0 L1988.2,575.8 L1990.3,574.8 L1992.2,573.2 L1994.3,571.4 L1996.9,568.8 L1999.0,568.0 L2000.4,564.8 L2001.9,563.2 L2003.6,560.4 L2005.3,557.0 L2007.0,555.2 L2007.6,552.7 L2009.4,549.2 L2011.0,547.0 L2011.9,544.3 L2012.1,541.3 L2012.6,538.5 L2012.5,536.0 L2012.7,533.5 L2013.3,530.5 L2014.0,528.0 L2015.8,525.9 L2017.6,524.2 L2019.2,522.1 L2020.8,520.6 L2022.0,518.0 L2024.2,517.4 L2026.8,516.2 L2029.7,515.1 L2032.0,513.0 L2032.2,515.9 L2033.5,519.4 L2034.1,521.6 L2034.6,524.6 L2035.2,528.3 L2035.4,531.4 L2036.6,533.8 L2037.0,537.0 L2036.9,540.1 L2037.7,543.4 L2037.2,546.0 L2037.4,549.8 L2037.6,552.8 L2037.9,556.0 L2038.2,558.7 L2038.9,562.2 L2038.9,565.5 L2039.4,568.0 L2038.9,571.3 L2039.3,575.0 L2039.8,577.5 L2039.3,581.3 L2040.0,584.1 L2040.0,587.0 L2040.6,590.3 L2040.8,593.7 L2040.2,596.6 L2040.5,600.2 L2041.0,603.0 L2041.2,605.8 L2041.0,609.3 L2041.4,612.6 L2041.5,615.6 L2041.2,619.0 L2041.7,621.7 L2042.0,625.7 L2041.7,628.2 L2042.5,631.5 L2042.2,634.9 L2042.3,638.2 L2042.7,641.7 L2043.3,644.1 L2043.1,647.9 L2043.5,651.1 L2043.4,654.2 L2043.3,657.1 L2043.9,660.7 L2044.2,663.8 L2043.7,667.0 L2044.0,670.0 L2044.6,673.1 L2044.8,676.0 L2045.0,679.1 L2044.8,682.1 L2045.4,685.8 L2045.9,688.3 L2046.0,691.3 L2046.4,694.3 L2046.4,698.0 L2047.2,700.7 L2047.6,703.6 L2047.5,706.5 L2048.0,709.8 L2048.5,713.0 L2050.7,713.2 L2052.5,713.0 L2053.2,709.7 L2053.4,706.8 L2052.9,703.3 L2053.6,700.8 L2053.7,697.4 L2054.0,694.4 L2053.9,690.9 L2055.0,687.5 L2054.6,684.2 L2054.8,681.2 L2055.6,678.0 L2055.6,674.9 L2056.0,672.3 L2056.3,668.5 L2056.7,666.0 L2056.8,662.1 L2057.3,659.6 L2057.1,655.8 L2057.5,653.0 L2057.5,649.9 L2058.4,646.8 L2058.8,643.2 L2058.5,640.5 L2059.1,637.0 L2059.4,633.8 L2059.0,630.7 L2059.3,627.7 L2059.9,624.4 L2060.4,621.1 L2060.6,617.7 L2061.3,615.0 L2061.7,611.4 L2061.6,608.8 L2061.6,605.0 L2061.7,601.9 L2062.6,598.7 L2062.9,595.8 L2062.9,592.8 L2063.2,589.7 L2063.5,586.2 L2064.0,583.0 L2064.0,580.0 L2065.2,577.4 L2066.3,574.1 L2067.3,571.9 L2068.0,568.3 L2069.0,566.1 L2069.6,562.2 L2071.0,560.0 L2072.0,557.0 L2073.7,554.0 L2075.3,551.0 L2076.5,547.9 L2077.2,545.1 L2078.7,542.7 L2080.6,539.5 L2082.0,537.0 L2084.4,534.4 L2085.6,531.7 L2088.2,530.5 L2089.7,526.6 L2092.0,525.0 L2095.1,523.1 L2098.1,522.7 L2100.6,521.0 L2103.6,520.2 L2106.0,520.3 L2109.0,518.0 L2111.2,519.7 L2113.8,520.4 L2116.7,522.1 L2119.0,522.2 L2122.0,523.0 L2124.7,524.8 L2128.1,523.5 L2130.2,522.0 L2133.1,522.7 L2135.9,521.8 L2139.0,523.0 L2141.7,524.8 L2143.7,527.1 L2146.0,527.5 L2148.4,529.6 L2151.5,529.6 L2153.8,532.4 L2156.0,533.0 L2158.3,534.1 L2161.0,537.0 L2163.2,538.0 L2166.1,538.9 L2168.6,541.4 L2170.7,542.9 L2173.4,544.2 L2176.0,545.0 L2179.2,545.2 L2182.1,548.7 L2184.4,547.0 L2187.0,551.0 L2189.8,551.9 L2192.8,552.6 L2196.0,553.0 L2198.4,552.8 L2201.8,553.3 L2204.3,556.9 L2207.5,557.6 L2210.6,555.6 L2213.0,558.0 L2221.0,559.2" fill="none" stroke="#000" stroke-width="12.5" stroke-linejoin="round" stroke-linecap="butt"/>
<path clip-path="url(#c4)" d="M218.0,1208.5 L222.0,1208.3 L224.7,1207.9 L228.2,1205.0 L231.0,1204.4 L233.9,1203.0 L236.5,1203.9 L240.0,1201.7 L242.7,1202.9 L245.3,1201.7 L248.2,1201.5 L251.1,1202.3 L253.9,1202.5 L257.1,1200.5 L260.0,1201.7 L262.7,1202.2 L266.1,1202.2 L268.3,1204.4 L271.8,1204.2 L274.1,1203.2 L276.9,1203.3 L280.0,1205.0 L282.4,1204.1 L285.6,1203.2 L288.4,1201.0 L291.6,1201.5 L294.3,1200.3 L297.3,1200.4 L300.0,1198.3 L303.2,1197.9 L305.6,1196.0 L308.5,1196.6 L311.3,1194.3 L314.2,1192.7 L317.6,1191.5 L320.0,1191.7 L322.8,1191.2 L325.1,1189.2 L327.9,1187.1 L330.4,1185.6 L333.7,1185.6 L336.4,1182.7 L338.9,1182.0 L341.5,1181.1 L343.8,1180.6 L346.7,1178.3 L349.1,1179.1 L352.8,1178.3 L355.4,1179.9 L357.9,1178.7 L361.2,1177.9 L364.1,1178.0 L366.7,1178.3 L369.6,1178.7 L372.7,1177.7 L375.6,1178.4 L378.1,1178.7 L381.0,1179.6 L384.1,1179.0 L387.1,1178.2 L390.0,1178.3 L392.5,1176.4 L396.0,1176.2 L398.4,1175.1 L401.4,1173.3 L403.6,1173.5 L406.7,1171.7 L409.7,1171.6 L413.1,1171.9 L416.1,1169.0 L418.7,1170.8 L422.2,1168.4 L424.5,1168.3 L427.5,1168.1 L431.2,1168.1 L433.9,1166.4 L436.9,1168.6 L440.0,1166.7 L442.4,1164.7 L444.4,1163.3 L446.9,1160.3 L449.0,1158.7 L451.1,1156.6 L453.3,1155.0 L456.0,1154.0 L458.7,1152.6 L461.4,1153.5 L464.0,1151.9 L467.4,1151.6 L470.0,1151.7 L472.7,1150.9 L476.0,1150.4 L478.7,1152.8 L481.1,1151.5 L484.6,1152.1 L487.0,1150.2 L490.0,1151.7 L492.6,1150.4 L495.5,1149.2 L497.9,1149.0 L501.0,1147.4 L503.3,1146.7 L506.0,1148.0 L509.3,1148.2 L512.1,1150.5 L514.3,1151.5 L517.0,1151.2 L520.0,1153.3 L523.0,1153.5 L525.6,1154.4 L528.8,1155.7 L530.7,1155.8 L533.9,1156.0 L536.7,1156.7 L539.9,1155.8 L542.4,1156.3 L545.2,1154.5 L548.1,1154.7 L551.2,1153.7 L553.7,1151.2 L556.7,1151.7 L559.8,1152.5 L562.8,1153.7 L565.1,1152.8 L567.9,1155.0 L570.9,1153.7 L574.4,1155.6 L576.6,1156.6 L580.0,1156.7 L583.2,1157.7 L585.6,1159.2 L588.9,1159.9 L592.5,1161.5 L595.0,1161.7 L597.9,1159.4 L599.8,1158.4 L602.0,1157.6 L604.8,1154.6 L607.3,1152.9 L610.0,1151.7 L612.9,1150.3 L615.0,1148.6 L617.1,1146.9 L620.4,1146.4 L622.9,1143.9 L624.7,1142.1 L627.5,1141.2 L630.0,1140.0 L632.8,1138.5 L635.8,1136.9 L638.9,1135.1 L641.8,1134.4 L643.8,1132.5 L647.2,1131.2 L650.0,1130.0 L652.8,1129.4 L655.3,1130.9 L658.1,1130.7 L661.4,1130.3 L663.9,1131.4 L666.7,1130.0 L669.5,1132.1 L672.1,1132.4 L675.5,1132.8 L678.3,1135.0 L681.7,1133.0 L684.4,1132.2 L687.7,1132.1 L690.6,1131.0 L693.3,1130.0 L696.3,1131.3 L698.7,1131.0 L702.0,1131.6 L704.9,1132.6 L706.8,1133.2 L710.0,1135.0 L713.3,1136.9 L715.9,1136.7 L718.8,1138.1 L722.2,1136.7 L725.0,1138.3 L726.5,1136.6 L728.4,1134.9 L730.6,1132.1 L732.9,1130.3 L734.8,1128.1 L736.7,1126.7 L739.9,1125.7 L742.6,1124.6 L745.3,1126.3 L747.7,1123.2 L750.4,1124.2 L753.3,1123.3 L755.8,1122.6 L758.5,1121.5 L761.9,1120.6 L764.6,1119.0 L767.5,1118.2 L770.0,1118.3 L773.1,1118.9 L775.8,1117.0 L777.8,1115.9 L780.9,1115.7 L783.3,1115.0 L786.6,1114.3 L789.0,1117.0 L792.0,1116.5 L794.3,1115.9 L797.4,1118.5 L800.8,1117.1 L803.3,1118.3 L811.3,1118.9" fill="none" stroke="#00AAEE" stroke-width="12" stroke-linejoin="round" stroke-linecap="butt"/>
<path clip-path="url(#c4)" d="M218.0,1467.6 L222.0,1466.7 L225.2,1464.3 L227.6,1466.3 L230.1,1465.3 L233.0,1463.0 L233.9,1459.7 L234.3,1457.2 L234.9,1454.7 L235.5,1451.8 L236.4,1448.3 L237.3,1445.5 L238.0,1443.0 L241.1,1443.9 L244.1,1442.3 L246.5,1442.3 L249.6,1442.5 L253.0,1441.7 L255.5,1441.1 L258.5,1439.6 L261.7,1438.1 L264.0,1439.8 L267.0,1438.6 L270.0,1436.7 L273.2,1437.7 L275.2,1437.7 L278.7,1438.9 L281.1,1441.2 L283.5,1442.1 L286.7,1443.3 L289.0,1444.1 L292.0,1444.2 L294.4,1445.0 L297.0,1444.8 L300.0,1446.7 L302.4,1445.9 L305.3,1444.3 L308.0,1441.7 L309.3,1439.6 L311.5,1436.7 L313.3,1433.9 L314.7,1431.3 L316.7,1428.3 L317.9,1430.0 L319.4,1432.3 L321.4,1434.3 L323.0,1436.7 L326.2,1435.0 L328.7,1435.6 L331.6,1437.9 L334.5,1434.9 L336.9,1437.1 L340.0,1436.7 L343.3,1435.9 L345.8,1438.8 L348.9,1438.3 L351.7,1439.4 L354.7,1438.6 L357.6,1440.7 L360.0,1441.7 L362.7,1440.8 L365.3,1443.6 L368.5,1442.1 L371.0,1442.6 L373.6,1443.5 L376.7,1445.0 L379.2,1447.6 L382.6,1448.5 L384.8,1449.0 L387.8,1451.4 L390.5,1452.0 L393.0,1453.0 L395.4,1453.5 L398.8,1454.2 L400.8,1453.9 L403.8,1451.6 L406.7,1453.0 L409.7,1452.2 L411.9,1449.5 L414.5,1450.4 L416.7,1448.0 L420.0,1449.4 L422.7,1450.1 L425.4,1449.4 L428.5,1451.1 L431.4,1449.9 L434.3,1451.3 L436.7,1451.7 L439.4,1449.0 L441.6,1448.4 L443.1,1446.5 L445.3,1443.3 L447.7,1441.4 L450.0,1440.0 L452.2,1438.5 L454.5,1435.9 L456.4,1433.9 L459.0,1431.5 L461.3,1429.5 L463.0,1426.7 L464.3,1428.4 L466.0,1431.7 L467.0,1433.6 L468.9,1436.1 L470.0,1438.0 L472.4,1438.6 L475.3,1437.9 L478.9,1439.6 L481.6,1440.4 L484.2,1440.1 L487.1,1443.0 L490.2,1441.7 L493.0,1443.0 L495.1,1440.9 L498.2,1439.7 L500.7,1439.0 L503.0,1436.7 L504.7,1435.2 L506.8,1433.6 L509.1,1430.6 L512.0,1428.9 L513.3,1428.1 L515.9,1426.2 L517.8,1423.6 L520.0,1421.7 L523.1,1420.0 L525.7,1417.5 L528.1,1415.7 L530.4,1413.6 L533.0,1413.0 L535.5,1415.1 L538.7,1415.2 L541.3,1414.1 L544.0,1415.3 L547.6,1415.7 L550.0,1417.7 L553.0,1416.7 L555.7,1418.7 L557.1,1420.3 L559.8,1422.7 L562.0,1423.7 L564.5,1424.8 L566.7,1426.7 L569.1,1429.0 L571.8,1430.5 L573.5,1433.4 L575.6,1435.0 L578.5,1436.3 L580.6,1438.6 L583.0,1440.0 L586.2,1441.2 L588.9,1438.8 L591.3,1439.4 L594.8,1442.6 L596.8,1441.8 L600.0,1441.7 L602.9,1441.9 L605.5,1445.1 L608.5,1445.3 L611.4,1446.7 L614.0,1448.4 L616.7,1450.0 L619.9,1451.6 L622.4,1452.7 L624.7,1454.7 L627.8,1455.0 L630.1,1454.6 L633.0,1456.7 L635.9,1457.7 L639.0,1455.5 L641.1,1455.9 L644.7,1454.3 L647.4,1454.0 L650.0,1455.0 L651.8,1456.6 L653.8,1459.5 L656.5,1462.8 L657.7,1464.0 L660.0,1466.7 L661.8,1469.0 L662.5,1471.9 L663.6,1474.4 L665.3,1477.2 L666.7,1480.0 L669.8,1480.3 L671.7,1483.2 L674.6,1484.0 L677.5,1484.8 L680.0,1485.0 L682.4,1483.2 L685.5,1483.6 L687.9,1483.6 L690.7,1481.6 L693.0,1481.7 L695.6,1483.6 L698.5,1481.4 L701.4,1481.5 L704.2,1481.0 L706.7,1483.0 L709.9,1482.3 L712.3,1482.6 L715.0,1479.5 L717.7,1479.6 L721.2,1479.1 L723.8,1478.6 L726.7,1476.7 L729.2,1475.1 L732.6,1476.2 L735.4,1474.4 L738.4,1472.5 L741.4,1472.7 L743.7,1470.6 L746.7,1470.0 L749.9,1469.0 L752.1,1470.4 L755.3,1468.7 L758.3,1469.6 L760.6,1467.1 L763.4,1466.9 L766.7,1466.7 L769.6,1466.8 L772.6,1465.0 L775.2,1464.1 L777.9,1464.0 L781.3,1463.0 L783.5,1461.5 L786.7,1460.0 L789.7,1460.0 L792.5,1461.7 L795.1,1461.3 L797.7,1461.6 L799.9,1460.9 L803.0,1460.0 L811.0,1459.6" fill="none" stroke="#000" stroke-width="12.5" stroke-linejoin="round" stroke-linecap="butt"/>
<path clip-path="url(#c5)" d="M914.4,1102.3 L918.4,1102.3 L921.7,1102.2 L924.3,1100.3 L927.7,1102.1 L930.4,1099.9 L933.4,1099.2 L936.7,1100.0 L938.9,1099.1 L941.0,1096.5 L942.9,1094.4 L945.0,1093.1 L946.7,1091.7 L948.7,1093.1 L951.3,1093.4 L953.8,1094.9 L956.8,1096.8 L958.7,1097.9 L961.7,1098.3 L963.0,1095.7 L965.1,1093.5 L966.5,1091.4 L968.1,1089.3 L970.0,1086.7 L972.5,1086.7 L975.9,1085.1 L977.9,1084.9 L980.7,1083.4 L983.8,1081.5 L986.7,1081.7 L989.7,1082.1 L992.5,1080.9 L995.3,1081.2 L997.9,1081.8 L1001.5,1081.4 L1004.3,1079.7 L1006.7,1080.0 L1009.8,1077.8 L1012.0,1076.6 L1014.6,1076.4 L1017.5,1074.5 L1020.0,1073.3 L1022.5,1072.7 L1025.2,1073.4 L1027.7,1075.0 L1030.7,1074.5 L1033.3,1075.0 L1035.5,1077.0 L1038.0,1077.9 L1040.9,1080.4 L1043.8,1082.1 L1046.2,1084.1 L1048.3,1085.0 L1051.0,1083.7 L1052.9,1081.1 L1055.3,1080.6 L1058.5,1078.6 L1060.6,1076.4 L1063.3,1075.0 L1065.2,1073.6 L1068.3,1071.3 L1069.5,1069.5 L1072.1,1069.0 L1074.8,1066.6 L1076.7,1065.0 L1078.7,1062.5 L1081.1,1061.6 L1083.8,1060.1 L1086.6,1057.9 L1088.5,1056.0 L1090.6,1053.0 L1093.3,1051.7 L1096.0,1050.0 L1098.4,1047.9 L1100.9,1047.4 L1104.2,1045.8 L1106.7,1043.3 L1109.4,1041.3 L1111.4,1039.3 L1113.7,1038.0 L1115.2,1034.8 L1117.5,1033.8 L1120.0,1031.7 L1122.5,1029.9 L1125.7,1031.8 L1127.9,1029.4 L1131.0,1030.4 L1133.3,1030.0 L1135.8,1029.3 L1139.3,1030.7 L1142.1,1029.8 L1144.7,1028.4 L1148.3,1028.6 L1150.5,1029.0 L1153.4,1027.6 L1156.7,1028.3 L1159.3,1026.8 L1162.2,1025.4 L1164.6,1022.5 L1167.6,1020.8 L1170.0,1020.0 L1172.6,1018.8 L1175.5,1018.5 L1177.7,1017.3 L1180.8,1015.9 L1183.3,1015.0 L1185.7,1015.9 L1189.0,1013.1 L1191.4,1015.6 L1194.2,1013.5 L1197.5,1014.5 L1200.0,1013.3 L1203.0,1014.5 L1205.3,1013.1 L1209.0,1015.6 L1211.0,1014.0 L1214.0,1016.9 L1216.9,1016.7 L1220.0,1016.7 L1222.4,1018.9 L1224.4,1020.4 L1225.7,1022.0 L1228.3,1024.1 L1230.0,1026.7 L1232.7,1029.0 L1234.1,1031.0 L1236.3,1032.5 L1238.5,1034.9 L1241.5,1037.0 L1243.3,1038.3 L1245.3,1040.4 L1248.4,1041.8 L1250.8,1042.9 L1253.4,1044.7 L1255.4,1044.8 L1258.3,1046.7 L1260.7,1047.6 L1263.3,1050.0 L1266.2,1048.1 L1269.0,1049.5 L1271.3,1047.0 L1274.2,1046.6 L1276.7,1046.7 L1279.0,1047.4 L1281.9,1049.6 L1283.7,1050.2 L1286.4,1053.1 L1288.9,1053.1 L1290.8,1054.9 L1293.3,1056.7 L1296.5,1056.6 L1299.3,1059.5 L1302.3,1057.9 L1304.6,1059.0 L1308.1,1061.1 L1310.9,1061.5 L1313.7,1062.8 L1316.7,1063.3 L1319.7,1064.3 L1322.6,1063.7 L1325.7,1063.6 L1328.3,1061.0 L1331.2,1063.2 L1333.8,1063.1 L1336.7,1061.7 L1339.1,1064.0 L1342.2,1064.9 L1344.8,1065.4 L1347.6,1066.9 L1350.1,1068.5 L1353.3,1070.0 L1356.6,1071.5 L1359.3,1072.8 L1362.0,1074.5 L1364.7,1074.0 L1367.0,1075.4 L1370.0,1076.7 L1371.5,1078.7 L1374.4,1081.9 L1375.8,1084.0 L1378.3,1086.5 L1380.0,1088.3 L1383.0,1090.0 L1384.9,1092.3 L1387.8,1093.6 L1390.5,1095.1 L1393.3,1096.7 L1396.5,1096.0 L1398.9,1097.7 L1401.7,1098.8 L1404.3,1099.0 L1407.4,1099.4 L1410.0,1098.3 L1412.4,1097.0 L1415.5,1098.5 L1418.1,1096.2 L1421.6,1097.8 L1424.0,1095.8 L1427.3,1096.0 L1430.0,1095.0 L1433.1,1096.6 L1435.5,1096.3 L1438.1,1098.3 L1441.1,1098.3 L1444.8,1100.1 L1447.2,1101.1 L1450.0,1101.7 L1452.5,1103.9 L1454.6,1104.8 L1456.7,1106.6 L1459.4,1108.7 L1461.5,1111.2 L1464.8,1113.4 L1466.7,1115.0 L1469.2,1115.9 L1471.9,1113.7 L1474.8,1114.7 L1478.0,1114.8 L1480.8,1113.7 L1483.3,1115.0 L1486.4,1115.6 L1489.0,1115.8 L1491.6,1117.2 L1494.3,1119.5 L1496.8,1119.3 L1498.8,1120.0 L1502.0,1121.7 L1510.0,1122.5" fill="none" stroke="#00AAEE" stroke-width="12" stroke-linejoin="round" stroke-linecap="butt"/>
<path clip-path="url(#c5)" d="M914.4,1421.8 L918.4,1421.3 L921.7,1419.9 L924.4,1421.7 L927.3,1420.0 L929.7,1419.6 L933.0,1421.3 L935.2,1419.1 L936.6,1417.4 L937.9,1414.6 L939.5,1413.9 L941.7,1411.3 L943.4,1414.3 L945.8,1416.2 L948.0,1418.0 L948.2,1421.4 L948.8,1424.1 L949.6,1427.0 L949.9,1430.7 L950.4,1433.4 L951.4,1436.4 L951.7,1439.7 L951.7,1442.5 L952.2,1445.6 L952.7,1448.8 L953.3,1451.4 L953.4,1455.1 L953.2,1457.5 L953.7,1460.6 L954.1,1464.1 L954.0,1466.6 L954.7,1469.7 L955.0,1473.0 L955.3,1475.9 L955.7,1478.5 L956.5,1481.9 L957.7,1484.9 L957.3,1487.6 L958.6,1490.9 L959.3,1494.2 L959.8,1496.4 L960.0,1499.7 L961.4,1502.4 L961.7,1504.7 L963.4,1507.4 L963.6,1510.1 L965.0,1513.0 L967.7,1512.3 L969.7,1510.4 L971.7,1511.3 L972.7,1513.8 L973.4,1516.8 L974.6,1518.9 L976.2,1522.0 L976.7,1524.7 L977.3,1526.8 L978.7,1529.9 L978.9,1532.5 L980.5,1535.2 L980.9,1537.8 L982.2,1540.5 L983.0,1543.0 L983.6,1540.3 L985.4,1537.3 L986.3,1534.0 L987.3,1530.8 L987.6,1528.3 L989.2,1524.8 L989.5,1521.8 L990.7,1518.9 L991.7,1516.3 L992.2,1513.6 L993.4,1510.9 L994.0,1507.7 L994.4,1505.1 L995.4,1501.7 L996.4,1499.3 L997.2,1496.4 L998.0,1493.0 L1000.6,1490.7 L1003.3,1489.0 L1006.0,1487.9 L1008.0,1486.3 L1008.9,1484.0 L1010.2,1480.7 L1011.3,1478.2 L1012.2,1475.1 L1013.5,1472.8 L1015.0,1469.7 L1016.5,1467.8 L1018.8,1465.4 L1021.1,1463.8 L1023.0,1461.3 L1023.3,1457.9 L1023.9,1455.5 L1024.5,1451.6 L1025.5,1448.9 L1026.5,1445.3 L1026.5,1442.2 L1027.5,1439.4 L1028.0,1436.3 L1029.1,1434.0 L1030.6,1431.2 L1031.7,1428.0 L1033.2,1430.2 L1034.2,1432.9 L1034.4,1436.0 L1035.5,1437.5 L1036.7,1440.3 L1038.0,1443.0 L1040.8,1443.7 L1042.6,1442.0 L1045.0,1441.3 L1047.0,1439.1 L1048.5,1436.1 L1049.6,1433.1 L1051.8,1431.0 L1053.7,1428.8 L1055.5,1425.2 L1056.7,1423.0 L1057.7,1421.0 L1059.6,1417.6 L1061.1,1415.2 L1062.1,1412.8 L1063.8,1410.7 L1064.7,1408.3 L1066.7,1405.5 L1068.0,1403.0 L1070.2,1405.5 L1071.5,1407.0 L1074.2,1409.4 L1076.1,1410.4 L1078.0,1413.0 L1080.3,1410.9 L1081.5,1407.9 L1084.1,1405.1 L1085.4,1403.7 L1087.8,1400.1 L1089.5,1397.8 L1091.3,1395.9 L1093.0,1393.0 L1095.4,1393.6 L1098.2,1395.0 L1100.8,1396.0 L1103.9,1398.1 L1106.7,1399.7 L1109.1,1399.1 L1112.8,1398.2 L1115.0,1397.8 L1118.0,1396.3 L1120.4,1396.9 L1123.0,1397.9 L1125.7,1399.6 L1127.9,1403.1 L1130.8,1404.2 L1133.0,1404.7 L1136.1,1406.1 L1139.2,1408.2 L1141.7,1408.5 L1144.8,1407.9 L1148.0,1409.7 L1149.8,1412.6 L1151.2,1415.7 L1152.4,1417.6 L1153.3,1420.8 L1155.5,1423.3 L1156.7,1426.3 L1159.0,1426.0 L1161.9,1429.1 L1165.0,1429.7 L1167.5,1427.9 L1170.8,1428.4 L1174.5,1425.2 L1176.6,1427.1 L1180.0,1424.7 L1183.1,1425.5 L1185.0,1428.1 L1187.6,1429.5 L1190.4,1430.8 L1193.0,1433.0 L1195.1,1433.3 L1197.7,1434.7 L1200.6,1437.7 L1202.8,1439.3 L1205.7,1439.5 L1208.0,1441.3 L1210.9,1439.6 L1214.2,1440.5 L1216.7,1439.7 L1219.2,1438.5 L1222.7,1439.6 L1225.7,1439.2 L1228.7,1441.6 L1230.9,1440.9 L1233.9,1441.6 L1237.5,1442.1 L1239.8,1439.5 L1243.0,1441.3 L1246.3,1441.6 L1248.9,1440.0 L1252.4,1439.7 L1255.6,1440.2 L1258.3,1441.0 L1261.7,1441.3 L1264.0,1443.2 L1265.8,1444.5 L1268.2,1444.8 L1270.9,1447.1 L1273.0,1448.0 L1275.9,1450.4 L1278.2,1450.2 L1281.4,1451.4 L1283.6,1452.6 L1286.7,1454.7 L1289.7,1455.3 L1292.3,1455.2 L1295.1,1452.3 L1297.4,1453.2 L1299.8,1452.3 L1303.0,1451.3 L1304.6,1452.8 L1307.0,1455.2 L1309.4,1458.6 L1311.0,1459.7 L1312.6,1462.5 L1315.0,1464.7 L1317.4,1465.7 L1319.9,1467.4 L1322.3,1467.7 L1323.9,1469.7 L1326.7,1471.3 L1329.2,1471.4 L1331.9,1472.1 L1334.0,1473.8 L1336.7,1474.7 L1339.7,1474.2 L1342.2,1472.0 L1345.6,1472.2 L1348.0,1469.7 L1349.1,1466.6 L1350.0,1464.5 L1350.8,1461.2 L1352.5,1459.4 L1353.0,1456.3 L1355.1,1455.0 L1358.1,1453.3 L1360.1,1453.2 L1363.0,1451.3 L1366.3,1451.8 L1368.6,1452.3 L1371.6,1454.9 L1374.6,1453.3 L1378.0,1454.7 L1378.9,1457.4 L1378.8,1460.4 L1379.5,1463.9 L1380.8,1466.6 L1380.8,1470.2 L1381.7,1473.0 L1383.3,1475.4 L1384.6,1478.0 L1387.2,1480.5 L1388.1,1484.0 L1390.0,1486.3 L1392.1,1484.9 L1393.3,1482.9 L1395.1,1479.7 L1396.7,1478.0 L1399.5,1477.4 L1402.6,1474.4 L1404.9,1475.6 L1408.0,1473.0 L1409.0,1471.0 L1410.7,1467.9 L1412.0,1465.8 L1414.2,1463.0 L1415.5,1460.8 L1416.2,1459.0 L1418.0,1456.3 L1420.3,1454.2 L1422.9,1454.7 L1425.9,1452.8 L1428.0,1451.3 L1430.0,1450.2 L1433.1,1448.9 L1436.0,1445.9 L1438.3,1445.4 L1440.3,1442.7 L1443.0,1441.3 L1445.7,1439.5 L1448.5,1437.5 L1451.2,1438.3 L1454.2,1436.1 L1457.6,1435.1 L1460.0,1433.0 L1460.9,1436.1 L1462.6,1438.8 L1463.7,1441.1 L1464.9,1443.2 L1465.9,1445.9 L1467.2,1448.3 L1468.0,1451.3 L1470.8,1450.4 L1473.8,1450.1 L1476.6,1451.7 L1479.3,1448.6 L1481.7,1449.7 L1483.8,1447.8 L1485.2,1445.5 L1486.2,1443.6 L1488.4,1440.7 L1489.9,1439.0 L1491.7,1436.3 L1494.2,1435.9 L1495.9,1433.3 L1498.2,1431.3 L1500.6,1429.8 L1503.0,1429.7 L1511.0,1429.6" fill="none" stroke="#000" stroke-width="12.5" stroke-linejoin="round" stroke-linecap="butt"/>
<path clip-path="url(#c6)" d="M1623.0,1131.3 L1627.0,1131.0 L1630.0,1130.3 L1632.1,1130.0 L1635.5,1130.5 L1637.9,1131.3 L1640.7,1131.7 L1643.3,1130.7 L1645.0,1128.4 L1647.9,1126.4 L1650.1,1125.1 L1652.0,1123.0 L1653.9,1121.5 L1656.3,1118.4 L1658.5,1117.4 L1660.5,1114.8 L1662.5,1113.4 L1664.9,1110.4 L1666.7,1108.5 L1669.0,1106.7 L1671.5,1104.9 L1672.8,1103.1 L1674.8,1100.6 L1677.3,1098.7 L1679.4,1095.7 L1681.5,1094.6 L1683.9,1091.9 L1685.7,1090.0 L1688.1,1089.1 L1691.4,1086.7 L1694.2,1086.9 L1696.5,1084.2 L1699.5,1084.0 L1702.0,1081.7 L1703.7,1079.3 L1705.7,1077.7 L1707.6,1075.3 L1709.8,1073.3 L1711.4,1071.6 L1714.2,1068.9 L1715.7,1066.7 L1718.7,1064.6 L1721.5,1063.9 L1724.1,1063.1 L1726.4,1061.7 L1729.0,1058.5 L1732.0,1058.0 L1734.4,1057.1 L1737.3,1055.6 L1739.3,1053.9 L1741.8,1050.9 L1744.3,1050.5 L1746.5,1048.5 L1749.0,1046.7 L1750.2,1043.6 L1751.8,1041.0 L1753.3,1037.8 L1754.2,1035.1 L1756.4,1032.6 L1757.3,1029.3 L1759.0,1026.7 L1761.0,1024.0 L1763.1,1022.5 L1764.7,1019.8 L1767.2,1017.7 L1769.0,1015.0 L1771.8,1014.5 L1774.0,1013.8 L1777.2,1011.0 L1779.8,1010.9 L1782.0,1010.0 L1784.4,1009.2 L1788.0,1011.4 L1790.2,1011.2 L1793.6,1013.1 L1796.1,1012.9 L1798.9,1011.7 L1802.0,1013.0 L1804.5,1012.3 L1807.8,1011.6 L1810.2,1010.9 L1813.0,1010.4 L1816.1,1010.9 L1818.8,1010.4 L1822.0,1010.0 L1824.9,1011.0 L1828.0,1010.6 L1831.0,1008.0 L1834.1,1007.5 L1836.7,1006.9 L1840.2,1009.1 L1842.9,1007.0 L1845.9,1006.6 L1849.0,1006.7 L1852.0,1005.0 L1854.2,1004.5 L1857.4,1001.4 L1860.5,1001.4 L1862.8,999.7 L1865.7,998.0 L1868.8,998.5 L1871.0,999.0 L1873.7,1000.6 L1876.6,1002.1 L1879.0,1001.7 L1881.1,1003.1 L1884.4,1005.6 L1886.6,1007.0 L1888.8,1009.2 L1891.5,1009.9 L1894.0,1011.7 L1896.3,1010.0 L1899.6,1011.0 L1901.3,1009.0 L1904.4,1008.7 L1907.0,1008.0 L1909.5,1010.1 L1912.2,1010.6 L1915.4,1012.0 L1917.7,1012.6 L1920.2,1014.4 L1923.3,1014.9 L1925.7,1016.7 L1928.4,1016.9 L1931.3,1018.8 L1934.3,1017.5 L1937.0,1019.5 L1939.6,1019.6 L1942.4,1018.7 L1945.7,1020.0 L1947.9,1021.7 L1950.7,1021.4 L1953.2,1022.5 L1956.6,1024.5 L1959.0,1025.0 L1961.9,1024.0 L1964.1,1022.2 L1966.1,1020.5 L1969.0,1018.0 L1971.4,1018.9 L1974.2,1021.7 L1976.4,1021.7 L1979.4,1024.5 L1981.6,1026.4 L1983.5,1026.2 L1986.1,1027.6 L1989.0,1030.0 L1992.2,1029.3 L1994.6,1027.2 L1997.7,1027.3 L2001.2,1027.1 L2004.0,1025.0 L2005.5,1022.8 L2007.1,1019.6 L2008.6,1016.8 L2010.9,1014.9 L2012.0,1011.7 L2015.0,1009.8 L2017.3,1008.7 L2020.4,1008.9 L2022.9,1007.3 L2026.3,1005.1 L2029.0,1005.0 L2031.7,1006.9 L2034.6,1007.6 L2037.7,1009.2 L2040.0,1010.1 L2043.4,1012.4 L2045.7,1013.0 L2048.8,1014.3 L2050.8,1014.6 L2053.7,1016.9 L2056.1,1018.3 L2059.6,1018.9 L2062.0,1020.0 L2063.3,1022.8 L2065.4,1025.2 L2067.3,1027.8 L2069.0,1030.0 L2070.3,1033.3 L2072.3,1036.1 L2073.4,1038.4 L2074.6,1041.2 L2076.5,1044.6 L2077.9,1047.4 L2079.0,1050.0 L2080.9,1052.6 L2081.7,1055.0 L2083.0,1057.3 L2084.4,1059.9 L2086.1,1061.7 L2088.0,1063.9 L2089.0,1066.7 L2091.6,1068.8 L2093.0,1070.5 L2095.6,1072.4 L2097.8,1073.2 L2100.3,1074.4 L2102.0,1076.7 L2104.2,1078.5 L2105.7,1080.9 L2108.2,1083.6 L2110.1,1085.7 L2112.0,1088.5 L2113.3,1090.7 L2115.7,1093.0 L2118.1,1094.9 L2120.3,1097.3 L2122.2,1100.4 L2125.0,1102.8 L2126.7,1104.5 L2129.0,1106.7 L2132.1,1108.3 L2134.5,1109.6 L2137.3,1110.9 L2140.1,1110.0 L2143.2,1111.1 L2145.7,1113.0 L2148.6,1111.1 L2151.6,1111.4 L2154.1,1109.6 L2156.7,1109.4 L2159.0,1109.6 L2162.0,1108.0 L2164.4,1107.1 L2167.3,1107.2 L2170.9,1104.3 L2173.3,1104.6 L2176.4,1104.4 L2179.0,1103.0 L2181.6,1104.8 L2184.3,1103.3 L2187.7,1103.8 L2189.8,1105.5 L2192.8,1105.2 L2195.7,1106.7 L2199.0,1106.6 L2201.8,1105.9 L2204.8,1105.8 L2207.6,1107.1 L2210.6,1107.6 L2213.0,1106.7 L2221.0,1106.3" fill="none" stroke="#00AAEE" stroke-width="12" stroke-linejoin="round" stroke-linecap="butt"/>
<path clip-path="url(#c6)" d="M1625.0,1380.8 L1629.0,1383.0 L1630.5,1385.7 L1632.0,1388.3 L1632.6,1391.5 L1634.7,1393.9 L1635.7,1396.3 L1636.7,1398.9 L1637.1,1402.3 L1638.3,1405.3 L1638.2,1407.9 L1639.3,1410.5 L1639.7,1413.1 L1640.7,1416.3 L1641.2,1419.3 L1641.5,1422.2 L1642.3,1425.5 L1642.8,1428.0 L1643.6,1431.2 L1644.2,1434.7 L1643.8,1437.4 L1645.2,1440.2 L1645.2,1443.1 L1645.7,1446.3 L1645.8,1449.1 L1646.4,1452.2 L1647.4,1455.5 L1648.2,1458.7 L1648.2,1462.0 L1649.0,1464.7 L1649.7,1467.9 L1649.8,1470.9 L1650.2,1474.2 L1650.7,1477.3 L1651.0,1479.5 L1652.0,1483.0 L1652.8,1485.7 L1653.4,1488.6 L1654.4,1492.2 L1655.0,1495.4 L1656.0,1498.2 L1656.4,1500.5 L1656.4,1503.9 L1658.1,1506.8 L1658.4,1509.5 L1659.0,1513.0 L1660.6,1515.7 L1662.4,1517.7 L1663.5,1518.8 L1665.7,1521.3 L1667.9,1523.7 L1670.3,1525.7 L1673.0,1527.2 L1675.7,1528.0 L1677.1,1530.2 L1679.0,1532.6 L1680.2,1534.6 L1681.7,1538.2 L1682.5,1540.3 L1684.0,1541.9 L1685.7,1544.7 L1687.7,1546.2 L1690.4,1548.2 L1692.0,1548.0 L1694.9,1547.0 L1697.0,1544.5 L1699.4,1544.1 L1701.5,1543.7 L1704.0,1541.3 L1704.7,1538.3 L1705.6,1535.7 L1707.0,1533.8 L1707.5,1530.8 L1708.9,1528.3 L1709.7,1525.7 L1710.7,1523.0 L1711.9,1520.5 L1714.0,1519.2 L1715.7,1518.0 L1717.5,1520.1 L1719.2,1522.6 L1720.0,1525.5 L1722.0,1528.0 L1724.3,1526.5 L1727.1,1525.2 L1729.4,1526.0 L1731.6,1524.0 L1734.0,1523.0 L1736.7,1521.0 L1738.1,1517.7 L1740.7,1516.3 L1741.9,1518.3 L1743.6,1521.0 L1745.7,1523.0 L1747.3,1520.5 L1749.0,1519.2 L1750.4,1515.8 L1752.2,1513.9 L1754.4,1512.2 L1755.7,1509.7 L1757.6,1507.3 L1759.2,1505.6 L1762.0,1505.0 L1763.4,1503.2 L1765.7,1501.3 L1768.3,1502.3 L1771.5,1502.1 L1774.9,1505.0 L1777.7,1504.3 L1780.7,1506.3 L1782.5,1504.2 L1784.2,1501.6 L1786.1,1499.5 L1787.1,1498.1 L1789.0,1496.3 L1790.9,1497.8 L1793.7,1501.7 L1795.7,1503.0 L1798.0,1503.6 L1800.9,1504.8 L1803.1,1507.3 L1805.7,1508.0 L1807.3,1509.7 L1808.6,1512.5 L1811.2,1515.3 L1812.0,1516.9 L1814.0,1518.6 L1815.7,1521.3 L1817.9,1523.3 L1820.0,1524.9 L1822.1,1527.9 L1823.7,1528.6 L1825.7,1531.3 L1828.6,1529.7 L1831.7,1532.1 L1834.5,1533.3 L1837.3,1531.3 L1838.5,1529.7 L1841.0,1526.7 L1842.2,1524.6 L1844.1,1523.7 L1845.7,1521.3 L1846.3,1518.4 L1847.0,1515.3 L1847.6,1512.5 L1848.5,1508.5 L1848.9,1506.1 L1850.4,1502.9 L1850.7,1499.7 L1851.0,1497.4 L1852.2,1494.0 L1852.6,1491.8 L1852.8,1488.6 L1854.0,1486.3 L1856.6,1486.3 L1860.0,1483.6 L1862.3,1483.0 L1863.8,1480.5 L1864.9,1477.5 L1866.1,1474.8 L1867.2,1471.9 L1867.6,1469.1 L1869.0,1466.3 L1870.2,1464.0 L1871.4,1462.2 L1872.8,1459.7 L1874.0,1458.0 L1874.9,1455.5 L1876.2,1452.9 L1877.5,1450.1 L1878.5,1447.7 L1879.9,1445.7 L1880.7,1443.0 L1883.6,1442.1 L1885.8,1442.3 L1888.7,1439.6 L1891.1,1438.7 L1894.0,1438.0 L1897.1,1437.7 L1899.8,1436.2 L1902.5,1434.1 L1905.7,1433.0 L1907.2,1435.4 L1908.9,1438.7 L1910.9,1440.6 L1912.1,1444.0 L1914.0,1446.3 L1917.1,1448.1 L1920.0,1449.4 L1922.5,1448.8 L1925.7,1451.3 L1928.2,1449.3 L1931.5,1451.4 L1933.9,1453.3 L1936.6,1450.2 L1939.0,1451.3 L1940.8,1448.8 L1943.3,1448.5 L1945.0,1446.1 L1946.8,1444.6 L1949.0,1443.0 L1951.6,1445.6 L1954.0,1447.1 L1956.0,1447.8 L1958.2,1450.7 L1960.7,1451.3 L1962.7,1448.9 L1965.1,1448.9 L1968.0,1445.9 L1970.3,1445.5 L1972.3,1443.0 L1974.2,1440.4 L1976.6,1438.8 L1977.9,1437.7 L1980.2,1434.8 L1982.3,1433.0 L1985.1,1431.0 L1987.2,1430.0 L1990.2,1427.7 L1992.9,1428.3 L1995.7,1426.3 L1997.2,1424.1 L1999.1,1420.9 L2000.2,1419.0 L2002.5,1416.0 L2003.7,1414.3 L2006.1,1410.9 L2007.4,1408.9 L2009.0,1406.3 L2011.0,1403.6 L2013.3,1403.3 L2015.8,1401.3 L2017.5,1399.0 L2019.9,1397.8 L2022.3,1396.3 L2023.0,1394.2 L2023.6,1391.8 L2024.6,1389.2 L2025.7,1386.3 L2028.2,1385.2 L2031.1,1382.3 L2034.3,1383.0 L2036.5,1381.5 L2039.5,1380.7 L2042.3,1378.0 L2043.8,1375.8 L2045.9,1374.3 L2048.4,1372.8 L2050.1,1370.0 L2052.3,1367.5 L2054.0,1366.3 L2056.3,1368.6 L2058.9,1370.8 L2061.1,1371.2 L2064.0,1373.0 L2064.8,1369.9 L2065.8,1367.5 L2067.2,1365.4 L2068.5,1362.8 L2069.8,1360.5 L2070.7,1358.0 L2072.4,1359.6 L2073.2,1362.1 L2074.3,1364.7 L2075.7,1366.3 L2075.6,1369.7 L2076.0,1372.3 L2076.5,1375.5 L2076.4,1378.2 L2077.2,1381.5 L2076.6,1384.8 L2077.2,1387.6 L2077.3,1391.1 L2077.5,1393.8 L2078.3,1396.8 L2078.0,1399.7 L2078.3,1403.0 L2080.6,1401.7 L2082.5,1399.5 L2084.5,1398.6 L2086.8,1397.1 L2089.0,1394.7 L2091.4,1393.9 L2093.5,1391.2 L2097.0,1391.0 L2099.2,1389.1 L2101.5,1386.9 L2104.0,1386.3 L2105.3,1389.2 L2107.5,1391.3 L2109.1,1393.9 L2110.8,1396.6 L2112.3,1399.7 L2114.5,1401.6 L2116.8,1403.5 L2119.0,1406.6 L2120.9,1408.2 L2123.6,1410.9 L2125.7,1413.0 L2128.2,1415.5 L2130.5,1416.2 L2132.8,1419.4 L2135.3,1421.1 L2137.4,1422.4 L2140.4,1425.1 L2142.3,1426.3 L2145.2,1424.6 L2148.0,1424.3 L2151.1,1428.3 L2153.7,1425.3 L2156.6,1424.9 L2159.0,1426.3 L2162.1,1425.3 L2164.1,1425.3 L2167.3,1424.0 L2170.3,1422.0 L2173.3,1419.9 L2175.7,1419.7 L2178.0,1417.1 L2179.0,1414.7 L2181.0,1411.9 L2183.4,1409.6 L2184.9,1407.4 L2186.9,1406.0 L2189.0,1403.0 L2192.1,1402.2 L2194.8,1399.5 L2197.3,1397.5 L2200.1,1397.1 L2202.3,1394.7 L2205.2,1393.0 L2207.2,1394.4 L2210.4,1392.5 L2213.0,1391.3 L2221.0,1390.7" fill="none" stroke="#000" stroke-width="12.5" stroke-linejoin="round" stroke-linecap="butt"/>
<g stroke="#FF0000" fill="none"><path d="M283,860 L283,757" stroke-width="9.6"/><path d="M258.4,798 L283,754.5 L307.6,798" stroke-width="8.4" stroke-linecap="round" stroke-linejoin="miter" stroke-miterlimit="10"/></g>
<g fill="#FF0000"><polygon points="696.6,746 671.8000000000001,794.2 721.4,794.2"/><rect x="691.6" y="793.2" width="10" height="66.8"/></g>
<g stroke="#FF0000" fill="none"><path d="M980,863 L980,760.5" stroke-width="9.6"/><path d="M955.4,801.5 L980,758.0 L1004.6,801.5" stroke-width="8.4" stroke-linecap="round" stroke-linejoin="miter" stroke-miterlimit="10"/></g>
<g fill="#FF0000"><polygon points="1392.6,747.8 1367.8,796.0 1417.3999999999999,796.0"/><rect x="1387.6" y="795.0" width="10" height="68.00000000000004"/></g>
<g stroke="#FF0000" fill="none"><path d="M1725.7,830 L1725.7,727" stroke-width="9.6"/><path d="M1701.1000000000001,768 L1725.7,724.5 L1750.3,768" stroke-width="8.4" stroke-linecap="round" stroke-linejoin="miter" stroke-miterlimit="10"/></g>
<g fill="#FF0000"><polygon points="2049,715 2024.2,763.2 2073.8,763.2"/><rect x="2044" y="762.2" width="10" height="67.8"/></g>
<g stroke="#FF0000" fill="none"><path d="M282.7,1571.3 L282.7,1468.3" stroke-width="9.6"/><path d="M258.09999999999997,1509.3 L282.7,1465.8 L307.3,1509.3" stroke-width="8.4" stroke-linecap="round" stroke-linejoin="miter" stroke-miterlimit="10"/></g>
<g fill="#FF0000"><polygon points="696.7,1494.7 671.9000000000001,1542.9 721.5,1542.9"/><rect x="691.7" y="1541.9" width="10" height="67.8"/></g>
<g stroke="#FF0000" fill="none"><path d="M1010,1606.3 L1010,1505" stroke-width="9.6"/><path d="M985.4,1546 L1010,1502.5 L1034.6,1546" stroke-width="8.4" stroke-linecap="round" stroke-linejoin="miter" stroke-miterlimit="10"/></g>
<g fill="#FF0000"><polygon points="1423.3,1492.3 1398.5,1540.5 1448.1,1540.5"/><rect x="1418.3" y="1539.5" width="10" height="66.8"/></g>
<g stroke="#FF0000" fill="none"><path d="M1680.7,1671.3 L1680.7,1571.7" stroke-width="9.6"/><path d="M1656.1000000000001,1612.7 L1680.7,1569.2 L1705.3,1612.7" stroke-width="8.4" stroke-linecap="round" stroke-linejoin="miter" stroke-miterlimit="10"/></g>
<g fill="#FF0000"><polygon points="2079,1404.7 2054.2,1452.9 2103.8,1452.9"/><rect x="2074" y="1451.9" width="10" height="66.09999999999995"/></g>
<g stroke="#00A850" stroke-width="9.0" fill="none"><path d="M1010.0,1136.7 L1045.0,1121.7"/><path d="M1073.3,1110.7 L1106.0,1096.7"/><path d="M1135.0,1086.7 L1161.7,1075.7"/></g><polygon fill="#00A850" points="1183.3,1065.7 1162.7,1089.2 1152.1,1063.3"/>
<g stroke="#00A850" stroke-width="10" fill="none"><path d="M995.0,1373.3 L1030.0,1373.3"/><path d="M1061.7,1373.3 L1096.7,1373.3"/><path d="M1128.3,1373.3 L1163.3,1373.3"/><path d="M1193.3,1373.3 L1215.0,1373.3"/></g><polygon fill="#00A850" points="1240.7,1373.3 1213.2,1386.3 1213.2,1360.3"/>
<g stroke="#FF0000" stroke-width="9.0" fill="none"><path d="M1685.7,1135.0 L1719.0,1121.7"/><path d="M1747.3,1110.0 L1780.7,1096.0"/><path d="M1809.0,1085.0 L1837.3,1073.3"/></g><polygon fill="#FF0000" points="1857.3,1065.0 1836.7,1088.5 1826.1,1062.6"/>
<g stroke="#FF0000" stroke-width="9.0" fill="none"><path d="M1754.0,1465.0 L1784.0,1451.7"/><path d="M1814.0,1438.3 L1849.0,1422.7"/><path d="M1875.7,1411.0 L1909.0,1396.0"/><path d="M1937.3,1384.0 L1970.7,1369.0"/><path d="M1997.3,1357.3 L2027.3,1344.3"/></g><polygon fill="#FF0000" points="2047.3,1336.0 2027.3,1360.1 2016.1,1334.5"/>
<text transform="translate(1148.98,52) scale(1,1.05)" font-size="68.5" dx="2.1 1.4 -5.5">T11</text><rect x="1198.74" y="45.03" width="12.81" height="7.97" fill="#fff"/><rect x="1217.60" y="45.03" width="12.27" height="7.97" fill="#fff"/><rect x="1231.34" y="45.03" width="12.81" height="7.97" fill="#fff"/><rect x="1250.20" y="45.03" width="12.27" height="7.97" fill="#fff"/>
<text transform="translate(413.83,172) scale(1,1.05)" font-size="68.5">80mA</text>
<text transform="translate(1142.48,171.5) scale(1,1.05)" font-size="68.5">100mA</text><rect x="1146.90" y="164.53" width="12.81" height="7.97" fill="#fff"/><rect x="1165.76" y="164.53" width="12.27" height="7.97" fill="#fff"/>
<text transform="translate(1813.78,171.5) scale(1,1.05)" font-size="68.5">120mA</text><rect x="1818.20" y="164.53" width="12.81" height="7.97" fill="#fff"/><rect x="1837.06" y="164.53" width="12.27" height="7.97" fill="#fff"/>
<text transform="translate(1191.50,944) scale(1,1.03)" font-size="70" dx="0 3.0">L1</text><rect x="1237.96" y="937.01" width="13.07" height="7.99" fill="#fff"/><rect x="1257.22" y="937.01" width="12.52" height="7.99" fill="#fff"/>
<text transform="translate(1067.57,1711.6) scale(1,1.02)" font-size="68.5">Time (sec)</text>
<text transform="translate(1819.80,1640) scale(1,1.02)" font-size="69.2">5 sec</text>
<rect x="1801" y="1666.6" width="195" height="10.4" fill="#000"/>
<text transform="translate(141.06,906.5) scale(1,1.04)" font-size="59">TESCoN On</text>
<text transform="translate(488.02,913) scale(1,1.04)" font-size="59.2">TESCoN Off</text>
<text transform="translate(51.6,1240) rotate(-90) scale(1,1.02)" font-size="68.3">Pressure (cm of H<tspan font-size="46.5" dy="14" dx="2.5">2</tspan><tspan dy="-14" dx="0.5">0</tspan><tspan dx="2">)</tspan></text>
<text transform="translate(2064.00,1219) scale(1,1.0)" font-size="71" style="fill:#00AAEE">P</text>
<text transform="translate(2110.00,1233) scale(1,0.98)" font-size="46.4" style="fill:#00AAEE">ura</text>
<text transform="translate(2064.50,1598) scale(1,1.0)" font-size="69.5">P</text>
<text transform="translate(2110.00,1611.6) scale(1,0.97)" font-size="45.5">det</text>
</svg></body></html>
